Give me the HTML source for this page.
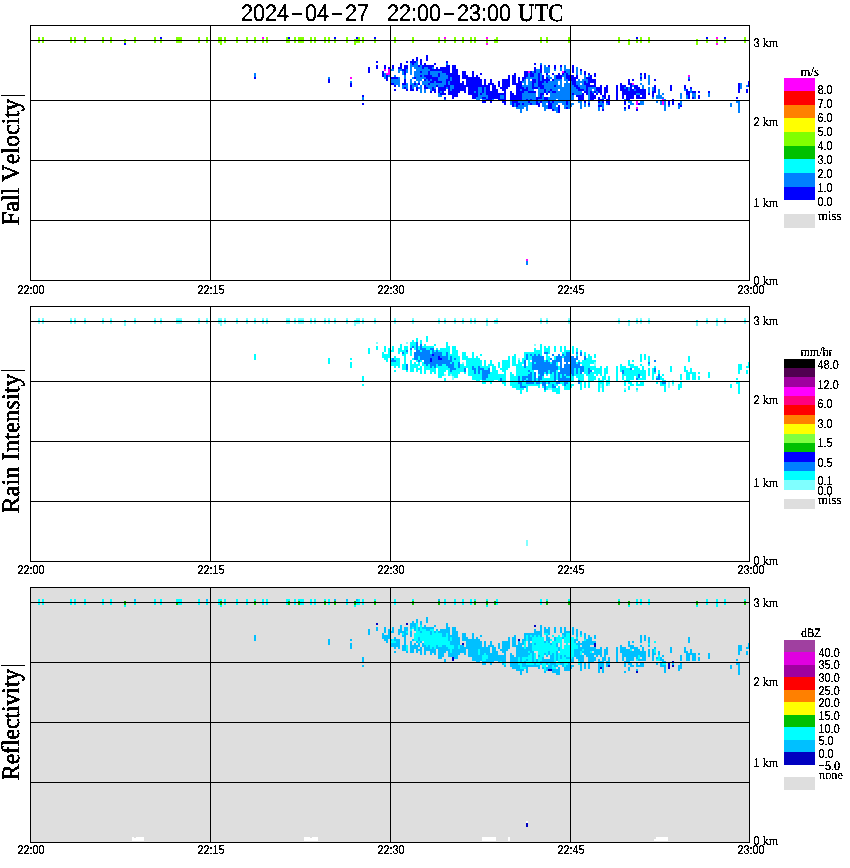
<!DOCTYPE html>
<html><head><meta charset="utf-8"><title>MRR 2024-04-27 22:00-23:00 UTC</title>
<style>
html,body{margin:0;padding:0;background:#fff;}
body{width:850px;height:868px;overflow:hidden;font-family:"Liberation Sans",sans-serif;}
svg{display:block;will-change:transform;}
text{fill:#000;stroke:#000;stroke-width:0.28px;text-rendering:geometricPrecision;font-variant-ligatures:none;font-kerning:none;}
.big{stroke-width:0.55px;}
.sm{stroke-width:0.2px;}
</style></head>
<body>
<svg width="850" height="868" viewBox="0 0 850 868" shape-rendering="crispEdges">
<defs><filter id="thr" x="0" y="0" width="850" height="868" filterUnits="userSpaceOnUse" color-interpolation-filters="sRGB"><feComponentTransfer><feFuncA type="discrete" tableValues="0 0 1 1"/></feComponentTransfer></filter></defs>
<rect x="0" y="0" width="850" height="868" fill="#ffffff"/>
<rect x="30" y="587" width="719" height="255" fill="#dedede"/>
<path fill="#80ff00" d="M38 37h2v2h-2zM42 37h2v2h-2zM70 37h2v2h-2zM74 37h2v2h-2zM84 37h2v2h-2zM102 37h2v2h-2zM110 37h2v2h-2zM134 37h2v2h-2zM154 37h2v2h-2zM176 37h6v2h-6zM198 37h2v2h-2zM206 37h2v2h-2zM218 37h4v2h-4zM224 37h2v2h-2zM236 37h2v2h-2zM246 37h2v2h-2zM254 37h2v2h-2zM266 37h2v2h-2zM286 37h2v2h-2zM294 37h2v2h-2zM298 37h6v2h-6zM310 37h2v2h-2zM314 37h2v2h-2zM324 37h2v2h-2zM328 37h2v2h-2zM346 37h2v2h-2zM358 37h2v2h-2zM362 37h2v2h-2zM394 37h2v2h-2zM412 37h2v2h-2zM438 37h2v2h-2zM454 37h2v2h-2zM462 37h2v2h-2zM470 37h2v2h-2zM474 37h2v2h-2zM496 37h2v2h-2zM540 37h2v2h-2zM546 37h2v2h-2zM568 37h2v2h-2zM618 37h2v2h-2zM640 37h2v2h-2zM648 37h2v2h-2zM744 37h2v2h-2zM38 39h2v2h-2zM42 39h2v2h-2zM70 39h2v2h-2zM74 39h2v2h-2zM84 39h2v2h-2zM102 39h2v2h-2zM110 39h2v2h-2zM124 39h2v2h-2zM134 39h2v2h-2zM154 39h2v2h-2zM160 39h2v2h-2zM176 39h6v2h-6zM198 39h2v2h-2zM206 39h2v2h-2zM218 39h4v2h-4zM224 39h2v2h-2zM236 39h2v2h-2zM246 39h2v2h-2zM254 39h2v2h-2zM262 39h2v2h-2zM266 39h2v2h-2zM286 39h4v2h-4zM294 39h2v2h-2zM298 39h6v2h-6zM310 39h2v2h-2zM314 39h2v2h-2zM324 39h2v2h-2zM328 39h2v2h-2zM334 39h2v2h-2zM346 39h2v2h-2zM354 39h6v2h-6zM362 39h2v2h-2zM374 39h2v2h-2zM394 39h2v2h-2zM412 39h2v2h-2zM438 39h2v2h-2zM444 39h2v2h-2zM454 39h2v2h-2zM462 39h2v2h-2zM470 39h2v2h-2zM474 39h2v2h-2zM486 39h2v2h-2zM494 39h4v2h-4zM540 39h2v2h-2zM546 39h2v2h-2zM568 39h2v2h-2zM618 39h2v2h-2zM628 39h2v2h-2zM636 39h2v2h-2zM640 39h2v2h-2zM648 39h2v2h-2zM696 39h2v2h-2zM706 39h2v2h-2zM716 39h2v2h-2zM724 39h2v2h-2zM744 39h2v2h-2zM38 41h2v2h-2zM42 41h2v2h-2zM70 41h2v2h-2zM74 41h2v2h-2zM84 41h2v2h-2zM102 41h2v2h-2zM110 41h2v2h-2zM124 41h2v2h-2zM134 41h2v2h-2zM154 41h2v2h-2zM160 41h2v2h-2zM176 41h6v2h-6zM198 41h2v2h-2zM206 41h2v2h-2zM218 41h4v2h-4zM224 41h2v2h-2zM236 41h2v2h-2zM246 41h2v2h-2zM254 41h2v2h-2zM262 41h2v2h-2zM266 41h2v2h-2zM286 41h4v2h-4zM294 41h2v2h-2zM298 41h6v2h-6zM310 41h2v2h-2zM314 41h2v2h-2zM324 41h2v2h-2zM328 41h2v2h-2zM334 41h2v2h-2zM346 41h2v2h-2zM354 41h6v2h-6zM362 41h2v2h-2zM374 41h2v2h-2zM394 41h2v2h-2zM412 41h2v2h-2zM438 41h2v2h-2zM444 41h2v2h-2zM454 41h2v2h-2zM462 41h2v2h-2zM470 41h2v2h-2zM474 41h2v2h-2zM486 41h2v2h-2zM494 41h4v2h-4zM540 41h2v2h-2zM546 41h2v2h-2zM568 41h2v2h-2zM618 41h2v2h-2zM628 41h2v2h-2zM636 41h2v2h-2zM640 41h2v2h-2zM648 41h2v2h-2zM696 41h2v2h-2zM706 41h2v2h-2zM716 41h2v2h-2zM724 41h2v2h-2zM744 41h2v2h-2zM220 43h2v2h-2zM354 43h2v2h-2zM628 43h2v2h-2zM696 43h2v2h-2z"/>
<path fill="#0000ff" d="M160 37h2v2h-2zM288 37h2v2h-2zM334 37h2v2h-2zM356 37h2v2h-2zM374 37h2v2h-2zM636 37h2v2h-2zM706 37h2v2h-2zM724 37h2v2h-2zM124 43h2v2h-2zM426 55h2v2h-2zM416 57h2v2h-2zM426 57h2v2h-2zM412 59h2v2h-2zM416 59h2v2h-2zM420 59h2v2h-2zM426 59h2v2h-2zM376 61h2v2h-2zM406 61h2v2h-2zM410 61h6v2h-6zM420 61h2v2h-2zM446 61h2v2h-2zM400 63h2v2h-2zM412 63h2v2h-2zM420 63h2v2h-2zM424 63h2v2h-2zM434 63h2v2h-2zM534 63h2v2h-2zM376 65h2v2h-2zM384 65h2v2h-2zM392 65h2v2h-2zM400 65h2v2h-2zM404 65h4v2h-4zM418 65h2v2h-2zM422 65h12v2h-12zM446 65h4v2h-4zM452 65h4v2h-4zM540 65h2v2h-2zM548 65h2v2h-2zM554 65h2v2h-2zM560 65h2v2h-2zM572 65h2v2h-2zM368 67h2v2h-2zM376 67h2v2h-2zM384 67h2v2h-2zM388 67h2v2h-2zM392 67h2v2h-2zM398 67h4v2h-4zM404 67h4v2h-4zM422 67h2v2h-2zM428 67h4v2h-4zM436 67h2v2h-2zM440 67h10v2h-10zM452 67h4v2h-4zM534 67h2v2h-2zM540 67h2v2h-2zM554 67h2v2h-2zM572 67h2v2h-2zM368 69h2v2h-2zM402 69h4v2h-4zM430 69h20v2h-20zM452 69h6v2h-6zM534 69h2v2h-2zM540 69h2v2h-2zM572 69h2v2h-2zM580 69h2v2h-2zM368 71h2v2h-2zM382 71h2v2h-2zM404 71h2v2h-2zM420 71h2v2h-2zM428 71h2v2h-2zM442 71h8v2h-8zM452 71h6v2h-6zM462 71h4v2h-4zM472 71h2v2h-2zM524 71h4v2h-4zM530 71h2v2h-2zM534 71h2v2h-2zM540 71h2v2h-2zM564 71h2v2h-2zM572 71h2v2h-2zM584 71h2v2h-2zM382 73h2v2h-2zM404 73h2v2h-2zM428 73h2v2h-2zM438 73h2v2h-2zM446 73h12v2h-12zM462 73h4v2h-4zM472 73h2v2h-2zM480 73h2v2h-2zM514 73h2v2h-2zM524 73h4v2h-4zM530 73h4v2h-4zM538 73h2v2h-2zM546 73h2v2h-2zM552 73h2v2h-2zM558 73h2v2h-2zM562 73h2v2h-2zM566 73h2v2h-2zM584 73h2v2h-2zM588 73h2v2h-2zM594 73h2v2h-2zM640 73h2v2h-2zM644 73h2v2h-2zM382 75h2v2h-2zM386 75h2v2h-2zM420 75h2v2h-2zM424 75h8v2h-8zM438 75h2v2h-2zM448 75h12v2h-12zM462 75h6v2h-6zM472 75h2v2h-2zM476 75h2v2h-2zM508 75h2v2h-2zM512 75h4v2h-4zM524 75h4v2h-4zM530 75h4v2h-4zM538 75h2v2h-2zM542 75h2v2h-2zM556 75h6v2h-6zM566 75h8v2h-8zM576 75h2v2h-2zM590 75h2v2h-2zM594 75h2v2h-2zM644 75h2v2h-2zM254 77h2v2h-2zM386 77h2v2h-2zM390 77h8v2h-8zM414 77h2v2h-2zM426 77h12v2h-12zM448 77h2v2h-2zM452 77h8v2h-8zM462 77h18v2h-18zM508 77h2v2h-2zM512 77h4v2h-4zM518 77h2v2h-2zM522 77h4v2h-4zM538 77h2v2h-2zM542 77h2v2h-2zM546 77h2v2h-2zM556 77h6v2h-6zM566 77h12v2h-12zM586 77h6v2h-6zM640 77h2v2h-2zM644 77h2v2h-2zM328 79h2v2h-2zM386 79h2v2h-2zM404 79h2v2h-2zM424 79h2v2h-2zM428 79h2v2h-2zM432 79h6v2h-6zM446 79h4v2h-4zM452 79h8v2h-8zM466 79h16v2h-16zM484 79h2v2h-2zM490 79h2v2h-2zM502 79h8v2h-8zM512 79h4v2h-4zM518 79h2v2h-2zM522 79h2v2h-2zM532 79h4v2h-4zM538 79h2v2h-2zM542 79h8v2h-8zM552 79h2v2h-2zM568 79h8v2h-8zM588 79h8v2h-8zM628 79h2v2h-2zM632 79h2v2h-2zM654 79h2v2h-2zM688 79h2v2h-2zM328 81h2v2h-2zM404 81h2v2h-2zM430 81h4v2h-4zM436 81h6v2h-6zM446 81h2v2h-2zM450 81h10v2h-10zM462 81h2v2h-2zM466 81h16v2h-16zM484 81h2v2h-2zM490 81h2v2h-2zM498 81h2v2h-2zM502 81h8v2h-8zM512 81h4v2h-4zM518 81h4v2h-4zM532 81h4v2h-4zM538 81h6v2h-6zM546 81h2v2h-2zM572 81h4v2h-4zM584 81h2v2h-2zM588 81h8v2h-8zM628 81h2v2h-2zM748 81h2v2h-2zM350 83h2v2h-2zM390 83h4v2h-4zM402 83h4v2h-4zM414 83h2v2h-2zM418 83h2v2h-2zM428 83h2v2h-2zM446 83h2v2h-2zM450 83h14v2h-14zM466 83h16v2h-16zM484 83h2v2h-2zM488 83h6v2h-6zM498 83h2v2h-2zM502 83h8v2h-8zM512 83h10v2h-10zM532 83h2v2h-2zM538 83h4v2h-4zM572 83h4v2h-4zM584 83h6v2h-6zM594 83h2v2h-2zM620 83h2v2h-2zM628 83h4v2h-4zM738 83h2v2h-2zM748 83h2v2h-2zM350 85h2v2h-2zM394 85h2v2h-2zM410 85h2v2h-2zM424 85h2v2h-2zM436 85h2v2h-2zM444 85h6v2h-6zM454 85h36v2h-36zM492 85h4v2h-4zM498 85h2v2h-2zM502 85h8v2h-8zM516 85h6v2h-6zM532 85h2v2h-2zM538 85h6v2h-6zM554 85h2v2h-2zM574 85h4v2h-4zM586 85h10v2h-10zM600 85h2v2h-2zM606 85h2v2h-2zM616 85h2v2h-2zM620 85h6v2h-6zM630 85h2v2h-2zM634 85h4v2h-4zM654 85h2v2h-2zM670 85h2v2h-2zM684 85h2v2h-2zM738 85h2v2h-2zM748 85h2v2h-2zM404 87h2v2h-2zM410 87h2v2h-2zM416 87h2v2h-2zM424 87h4v2h-4zM432 87h2v2h-2zM438 87h8v2h-8zM448 87h2v2h-2zM454 87h12v2h-12zM468 87h10v2h-10zM482 87h2v2h-2zM486 87h4v2h-4zM492 87h4v2h-4zM500 87h8v2h-8zM516 87h8v2h-8zM526 87h2v2h-2zM532 87h6v2h-6zM540 87h4v2h-4zM576 87h4v2h-4zM586 87h2v2h-2zM596 87h6v2h-6zM604 87h4v2h-4zM616 87h2v2h-2zM620 87h4v2h-4zM626 87h2v2h-2zM630 87h2v2h-2zM634 87h6v2h-6zM654 87h2v2h-2zM670 87h2v2h-2zM684 87h2v2h-2zM690 87h2v2h-2zM738 87h2v2h-2zM394 89h2v2h-2zM406 89h2v2h-2zM410 89h4v2h-4zM416 89h2v2h-2zM432 89h4v2h-4zM438 89h8v2h-8zM448 89h2v2h-2zM452 89h14v2h-14zM468 89h10v2h-10zM482 89h2v2h-2zM486 89h4v2h-4zM492 89h6v2h-6zM502 89h4v2h-4zM516 89h4v2h-4zM522 89h6v2h-6zM544 89h2v2h-2zM550 89h2v2h-2zM578 89h6v2h-6zM586 89h2v2h-2zM596 89h6v2h-6zM604 89h4v2h-4zM616 89h2v2h-2zM620 89h8v2h-8zM630 89h4v2h-4zM636 89h10v2h-10zM654 89h2v2h-2zM670 89h2v2h-2zM686 89h2v2h-2zM738 89h2v2h-2zM746 89h2v2h-2zM430 91h2v2h-2zM434 91h2v2h-2zM438 91h2v2h-2zM442 91h2v2h-2zM448 91h12v2h-12zM464 91h2v2h-2zM468 91h6v2h-6zM476 91h2v2h-2zM482 91h2v2h-2zM486 91h12v2h-12zM504 91h2v2h-2zM510 91h2v2h-2zM516 91h8v2h-8zM528 91h8v2h-8zM544 91h2v2h-2zM548 91h2v2h-2zM552 91h4v2h-4zM584 91h4v2h-4zM590 91h2v2h-2zM594 91h2v2h-2zM598 91h4v2h-4zM604 91h4v2h-4zM616 91h2v2h-2zM622 91h24v2h-24zM652 91h4v2h-4zM686 91h4v2h-4zM692 91h4v2h-4zM698 91h2v2h-2zM708 91h2v2h-2zM738 91h2v2h-2zM746 91h2v2h-2zM440 93h6v2h-6zM448 93h10v2h-10zM468 93h10v2h-10zM480 93h2v2h-2zM486 93h20v2h-20zM510 93h4v2h-4zM516 93h6v2h-6zM540 93h4v2h-4zM546 93h2v2h-2zM572 93h2v2h-2zM582 93h2v2h-2zM586 93h2v2h-2zM590 93h4v2h-4zM596 93h2v2h-2zM600 93h2v2h-2zM604 93h2v2h-2zM616 93h2v2h-2zM622 93h14v2h-14zM640 93h6v2h-6zM648 93h2v2h-2zM652 93h2v2h-2zM686 93h4v2h-4zM362 95h2v2h-2zM452 95h6v2h-6zM472 95h6v2h-6zM488 95h12v2h-12zM504 95h2v2h-2zM510 95h12v2h-12zM540 95h2v2h-2zM576 95h8v2h-8zM590 95h6v2h-6zM602 95h4v2h-4zM608 95h2v2h-2zM616 95h2v2h-2zM622 95h2v2h-2zM626 95h8v2h-8zM636 95h4v2h-4zM642 95h4v2h-4zM652 95h2v2h-2zM688 95h2v2h-2zM698 95h2v2h-2zM444 97h2v2h-2zM452 97h2v2h-2zM472 97h4v2h-4zM482 97h4v2h-4zM488 97h12v2h-12zM504 97h2v2h-2zM510 97h12v2h-12zM536 97h6v2h-6zM544 97h4v2h-4zM578 97h6v2h-6zM590 97h6v2h-6zM598 97h2v2h-2zM604 97h2v2h-2zM608 97h2v2h-2zM616 97h2v2h-2zM622 97h2v2h-2zM626 97h8v2h-8zM636 97h10v2h-10zM688 97h2v2h-2zM692 97h2v2h-2zM698 97h2v2h-2zM736 97h2v2h-2zM486 99h6v2h-6zM498 99h8v2h-8zM510 99h12v2h-12zM526 99h2v2h-2zM530 99h2v2h-2zM536 99h2v2h-2zM544 99h4v2h-4zM578 99h6v2h-6zM590 99h4v2h-4zM598 99h6v2h-6zM606 99h4v2h-4zM616 99h2v2h-2zM626 99h4v2h-4zM672 99h2v2h-2zM482 101h4v2h-4zM490 101h2v2h-2zM502 101h4v2h-4zM512 101h6v2h-6zM528 101h2v2h-2zM536 101h2v2h-2zM540 101h2v2h-2zM548 101h2v2h-2zM552 101h2v2h-2zM566 101h2v2h-2zM584 101h2v2h-2zM598 101h2v2h-2zM602 101h2v2h-2zM606 101h4v2h-4zM624 101h2v2h-2zM668 101h2v2h-2zM672 101h2v2h-2zM362 103h2v2h-2zM504 103h2v2h-2zM512 103h2v2h-2zM516 103h4v2h-4zM522 103h2v2h-2zM530 103h2v2h-2zM536 103h4v2h-4zM548 103h4v2h-4zM566 103h2v2h-2zM588 103h2v2h-2zM608 103h2v2h-2zM624 103h2v2h-2zM638 103h2v2h-2zM668 103h2v2h-2zM672 103h2v2h-2zM678 103h2v2h-2zM512 105h2v2h-2zM516 105h2v2h-2zM538 105h2v2h-2zM548 105h4v2h-4zM558 105h2v2h-2zM598 105h4v2h-4zM628 105h2v2h-2zM680 105h2v2h-2zM548 107h4v2h-4zM558 107h2v2h-2zM566 107h2v2h-2zM624 107h2v2h-2zM628 107h2v2h-2zM552 109h2v2h-2zM558 109h2v2h-2zM602 109h2v2h-2zM636 109h2v2h-2zM558 111h2v2h-2z"/>
<path fill="#ff00ff" d="M262 37h2v2h-2zM444 37h2v2h-2zM486 37h2v2h-2zM716 37h2v2h-2zM486 43h2v2h-2zM716 43h2v2h-2zM384 69h2v2h-2zM388 69h2v2h-2zM388 71h2v2h-2zM528 71h2v2h-2zM562 71h2v2h-2zM386 73h4v2h-4zM688 75h2v2h-2zM350 77h2v2h-2zM632 83h2v2h-2zM662 99h2v2h-2zM636 101h2v2h-2zM662 101h2v2h-2zM636 103h2v2h-2zM662 103h2v2h-2zM636 107h2v2h-2zM526 259h2v2h-2z"/>
<path fill="#0080ff" d="M416 61h2v2h-2zM410 63h2v2h-2zM414 63h4v2h-4zM446 63h2v2h-2zM540 63h2v2h-2zM410 65h8v2h-8zM420 65h2v2h-2zM544 65h2v2h-2zM564 65h2v2h-2zM410 67h2v2h-2zM414 67h8v2h-8zM424 67h4v2h-4zM432 67h2v2h-2zM544 67h6v2h-6zM560 67h2v2h-2zM564 67h2v2h-2zM576 67h2v2h-2zM390 69h4v2h-4zM398 69h4v2h-4zM406 69h2v2h-2zM410 69h2v2h-2zM416 69h14v2h-14zM536 69h4v2h-4zM544 69h6v2h-6zM554 69h2v2h-2zM560 69h2v2h-2zM564 69h6v2h-6zM576 69h2v2h-2zM398 71h2v2h-2zM402 71h2v2h-2zM406 71h2v2h-2zM410 71h2v2h-2zM414 71h6v2h-6zM422 71h6v2h-6zM430 71h12v2h-12zM532 71h2v2h-2zM536 71h4v2h-4zM544 71h6v2h-6zM566 71h4v2h-4zM576 71h2v2h-2zM580 71h2v2h-2zM254 73h2v2h-2zM384 73h2v2h-2zM402 73h2v2h-2zM410 73h2v2h-2zM414 73h14v2h-14zM430 73h8v2h-8zM440 73h6v2h-6zM528 73h2v2h-2zM534 73h4v2h-4zM540 73h2v2h-2zM564 73h2v2h-2zM568 73h2v2h-2zM576 73h2v2h-2zM580 73h2v2h-2zM254 75h2v2h-2zM384 75h2v2h-2zM388 75h2v2h-2zM394 75h2v2h-2zM404 75h2v2h-2zM414 75h6v2h-6zM422 75h2v2h-2zM432 75h6v2h-6zM440 75h8v2h-8zM528 75h2v2h-2zM534 75h4v2h-4zM540 75h2v2h-2zM546 75h4v2h-4zM554 75h2v2h-2zM562 75h4v2h-4zM584 75h2v2h-2zM588 75h2v2h-2zM640 75h2v2h-2zM648 75h2v2h-2zM328 77h2v2h-2zM384 77h2v2h-2zM398 77h2v2h-2zM404 77h2v2h-2zM412 77h2v2h-2zM416 77h10v2h-10zM438 77h10v2h-10zM450 77h2v2h-2zM526 77h12v2h-12zM540 77h2v2h-2zM548 77h4v2h-4zM554 77h2v2h-2zM564 77h2v2h-2zM584 77h2v2h-2zM648 77h2v2h-2zM688 77h2v2h-2zM390 79h10v2h-10zM410 79h2v2h-2zM416 79h6v2h-6zM426 79h2v2h-2zM430 79h2v2h-2zM438 79h8v2h-8zM450 79h2v2h-2zM524 79h2v2h-2zM528 79h2v2h-2zM536 79h2v2h-2zM540 79h2v2h-2zM554 79h8v2h-8zM564 79h4v2h-4zM578 79h2v2h-2zM582 79h6v2h-6zM640 79h2v2h-2zM648 79h2v2h-2zM350 81h2v2h-2zM390 81h10v2h-10zM410 81h2v2h-2zM414 81h2v2h-2zM418 81h2v2h-2zM422 81h8v2h-8zM434 81h2v2h-2zM442 81h4v2h-4zM448 81h2v2h-2zM522 81h4v2h-4zM528 81h4v2h-4zM536 81h2v2h-2zM544 81h2v2h-2zM548 81h10v2h-10zM560 81h2v2h-2zM566 81h2v2h-2zM570 81h2v2h-2zM576 81h8v2h-8zM586 81h2v2h-2zM648 81h2v2h-2zM394 83h6v2h-6zM406 83h2v2h-2zM410 83h4v2h-4zM416 83h2v2h-2zM422 83h6v2h-6zM430 83h16v2h-16zM448 83h2v2h-2zM524 83h2v2h-2zM528 83h4v2h-4zM534 83h4v2h-4zM542 83h16v2h-16zM560 83h2v2h-2zM564 83h8v2h-8zM576 83h4v2h-4zM582 83h2v2h-2zM640 83h2v2h-2zM648 83h2v2h-2zM740 83h2v2h-2zM398 85h2v2h-2zM402 85h6v2h-6zM412 85h6v2h-6zM420 85h2v2h-2zM426 85h10v2h-10zM438 85h6v2h-6zM450 85h4v2h-4zM522 85h10v2h-10zM534 85h4v2h-4zM544 85h10v2h-10zM556 85h6v2h-6zM564 85h10v2h-10zM578 85h8v2h-8zM632 85h2v2h-2zM642 85h2v2h-2zM740 85h2v2h-2zM746 85h2v2h-2zM402 87h2v2h-2zM406 87h2v2h-2zM412 87h2v2h-2zM418 87h4v2h-4zM428 87h4v2h-4zM434 87h2v2h-2zM446 87h2v2h-2zM450 87h4v2h-4zM478 87h4v2h-4zM484 87h2v2h-2zM524 87h2v2h-2zM528 87h4v2h-4zM538 87h2v2h-2zM544 87h32v2h-32zM580 87h6v2h-6zM588 87h8v2h-8zM624 87h2v2h-2zM628 87h2v2h-2zM642 87h2v2h-2zM648 87h2v2h-2zM652 87h2v2h-2zM740 87h2v2h-2zM420 89h2v2h-2zM424 89h2v2h-2zM430 89h2v2h-2zM450 89h2v2h-2zM478 89h4v2h-4zM484 89h2v2h-2zM520 89h2v2h-2zM528 89h6v2h-6zM538 89h6v2h-6zM546 89h4v2h-4zM552 89h6v2h-6zM560 89h18v2h-18zM584 89h2v2h-2zM588 89h4v2h-4zM594 89h2v2h-2zM628 89h2v2h-2zM634 89h2v2h-2zM648 89h2v2h-2zM652 89h2v2h-2zM658 89h2v2h-2zM684 89h2v2h-2zM690 89h2v2h-2zM420 91h2v2h-2zM424 91h2v2h-2zM440 91h2v2h-2zM474 91h2v2h-2zM478 91h4v2h-4zM484 91h2v2h-2zM524 91h4v2h-4zM538 91h6v2h-6zM546 91h2v2h-2zM550 91h2v2h-2zM556 91h26v2h-26zM588 91h2v2h-2zM592 91h2v2h-2zM596 91h2v2h-2zM648 91h2v2h-2zM658 91h2v2h-2zM690 91h2v2h-2zM438 93h2v2h-2zM478 93h2v2h-2zM482 93h4v2h-4zM522 93h14v2h-14zM538 93h2v2h-2zM550 93h22v2h-22zM574 93h8v2h-8zM588 93h2v2h-2zM636 93h4v2h-4zM658 93h2v2h-2zM662 93h2v2h-2zM680 93h2v2h-2zM692 93h4v2h-4zM708 93h2v2h-2zM438 95h4v2h-4zM478 95h10v2h-10zM500 95h4v2h-4zM522 95h14v2h-14zM538 95h2v2h-2zM542 95h2v2h-2zM550 95h24v2h-24zM588 95h2v2h-2zM656 95h6v2h-6zM680 95h2v2h-2zM686 95h2v2h-2zM692 95h4v2h-4zM708 95h2v2h-2zM362 97h2v2h-2zM476 97h6v2h-6zM486 97h2v2h-2zM500 97h4v2h-4zM522 97h14v2h-14zM542 97h2v2h-2zM548 97h26v2h-26zM588 97h2v2h-2zM602 97h2v2h-2zM652 97h2v2h-2zM656 97h8v2h-8zM680 97h2v2h-2zM686 97h2v2h-2zM694 97h2v2h-2zM362 99h2v2h-2zM444 99h2v2h-2zM476 99h4v2h-4zM482 99h4v2h-4zM492 99h2v2h-2zM522 99h4v2h-4zM528 99h2v2h-2zM532 99h4v2h-4zM538 99h6v2h-6zM548 99h8v2h-8zM558 99h16v2h-16zM588 99h2v2h-2zM624 99h2v2h-2zM664 99h2v2h-2zM510 101h2v2h-2zM518 101h10v2h-10zM530 101h6v2h-6zM538 101h2v2h-2zM542 101h6v2h-6zM550 101h2v2h-2zM554 101h12v2h-12zM568 101h2v2h-2zM578 101h4v2h-4zM588 101h2v2h-2zM600 101h2v2h-2zM628 101h4v2h-4zM640 101h4v2h-4zM656 101h2v2h-2zM660 101h2v2h-2zM664 101h2v2h-2zM680 101h2v2h-2zM736 101h4v2h-4zM510 103h2v2h-2zM514 103h2v2h-2zM520 103h2v2h-2zM524 103h6v2h-6zM532 103h4v2h-4zM542 103h4v2h-4zM552 103h6v2h-6zM562 103h4v2h-4zM568 103h6v2h-6zM580 103h2v2h-2zM584 103h2v2h-2zM598 103h6v2h-6zM606 103h2v2h-2zM630 103h4v2h-4zM640 103h4v2h-4zM660 103h2v2h-2zM664 103h2v2h-2zM680 103h2v2h-2zM730 103h2v2h-2zM738 103h2v2h-2zM514 105h2v2h-2zM518 105h10v2h-10zM542 105h6v2h-6zM552 105h4v2h-4zM564 105h8v2h-8zM580 105h2v2h-2zM584 105h2v2h-2zM588 105h2v2h-2zM602 105h2v2h-2zM664 105h2v2h-2zM668 105h2v2h-2zM678 105h2v2h-2zM730 105h2v2h-2zM738 105h2v2h-2zM516 107h8v2h-8zM526 107h2v2h-2zM544 107h4v2h-4zM552 107h6v2h-6zM564 107h2v2h-2zM568 107h2v2h-2zM580 107h2v2h-2zM598 107h2v2h-2zM602 107h2v2h-2zM664 107h2v2h-2zM678 107h2v2h-2zM738 107h2v2h-2zM520 109h2v2h-2zM526 109h2v2h-2zM544 109h2v2h-2zM554 109h4v2h-4zM598 109h2v2h-2zM624 109h2v2h-2zM664 109h2v2h-2zM738 109h2v2h-2zM520 111h2v2h-2zM556 111h2v2h-2zM738 111h2v2h-2zM526 261h2v2h-2zM526 263h2v2h-2z"/>
<path fill="#80ffff" d="M38 318h2v2h-2zM42 318h2v2h-2zM70 318h2v2h-2zM74 318h2v2h-2zM84 318h2v2h-2zM102 318h2v2h-2zM110 318h2v2h-2zM134 318h2v2h-2zM154 318h2v2h-2zM160 318h2v2h-2zM176 318h6v2h-6zM198 318h2v2h-2zM206 318h2v2h-2zM218 318h4v2h-4zM224 318h2v2h-2zM236 318h2v2h-2zM246 318h2v2h-2zM254 318h2v2h-2zM262 318h2v2h-2zM266 318h2v2h-2zM286 318h4v2h-4zM294 318h2v2h-2zM298 318h6v2h-6zM310 318h2v2h-2zM314 318h2v2h-2zM324 318h2v2h-2zM328 318h2v2h-2zM334 318h2v2h-2zM346 318h2v2h-2zM356 318h4v2h-4zM362 318h2v2h-2zM374 318h2v2h-2zM394 318h2v2h-2zM412 318h2v2h-2zM438 318h2v2h-2zM444 318h2v2h-2zM454 318h2v2h-2zM462 318h2v2h-2zM470 318h2v2h-2zM474 318h2v2h-2zM486 318h2v2h-2zM496 318h2v2h-2zM540 318h2v2h-2zM546 318h2v2h-2zM568 318h2v2h-2zM618 318h2v2h-2zM636 318h2v2h-2zM640 318h2v2h-2zM648 318h2v2h-2zM706 318h2v2h-2zM716 318h2v2h-2zM724 318h2v2h-2zM744 318h2v2h-2zM38 322h2v2h-2zM42 322h2v2h-2zM70 322h2v2h-2zM74 322h2v2h-2zM84 322h2v2h-2zM102 322h2v2h-2zM110 322h2v2h-2zM124 322h2v2h-2zM134 322h2v2h-2zM154 322h2v2h-2zM160 322h2v2h-2zM176 322h6v2h-6zM198 322h2v2h-2zM206 322h2v2h-2zM218 322h4v2h-4zM224 322h2v2h-2zM236 322h2v2h-2zM246 322h2v2h-2zM254 322h2v2h-2zM262 322h2v2h-2zM266 322h2v2h-2zM286 322h4v2h-4zM294 322h2v2h-2zM298 322h6v2h-6zM310 322h2v2h-2zM314 322h2v2h-2zM324 322h2v2h-2zM328 322h2v2h-2zM334 322h2v2h-2zM346 322h2v2h-2zM354 322h6v2h-6zM362 322h2v2h-2zM374 322h2v2h-2zM394 322h2v2h-2zM412 322h2v2h-2zM438 322h2v2h-2zM444 322h2v2h-2zM454 322h2v2h-2zM462 322h2v2h-2zM470 322h2v2h-2zM474 322h2v2h-2zM486 322h2v2h-2zM494 322h4v2h-4zM540 322h2v2h-2zM546 322h2v2h-2zM568 322h2v2h-2zM618 322h2v2h-2zM628 322h2v2h-2zM636 322h2v2h-2zM640 322h2v2h-2zM648 322h2v2h-2zM696 322h2v2h-2zM706 322h2v2h-2zM716 322h2v2h-2zM724 322h2v2h-2zM744 322h2v2h-2zM124 324h2v2h-2zM220 324h2v2h-2zM354 324h2v2h-2zM486 324h2v2h-2zM628 324h2v2h-2zM696 324h2v2h-2zM716 324h2v2h-2zM376 342h2v2h-2zM406 342h2v2h-2zM534 344h2v2h-2zM518 358h2v2h-2zM462 362h2v2h-2zM594 362h2v2h-2zM594 364h2v2h-2zM444 374h2v2h-2zM450 374h2v2h-2zM452 376h2v2h-2zM452 378h2v2h-2zM672 380h2v2h-2zM668 382h2v2h-2zM600 384h2v2h-2zM608 384h2v2h-2zM668 384h2v2h-2zM672 384h2v2h-2zM600 386h2v2h-2zM668 386h2v2h-2zM548 388h4v2h-4zM624 388h2v2h-2zM636 390h2v2h-2zM526 540h2v2h-2zM526 542h2v2h-2zM526 544h2v2h-2z"/>
<path fill="#00ffff" d="M38 320h2v2h-2zM42 320h2v2h-2zM70 320h2v2h-2zM74 320h2v2h-2zM84 320h2v2h-2zM102 320h2v2h-2zM110 320h2v2h-2zM124 320h2v2h-2zM134 320h2v2h-2zM154 320h2v2h-2zM160 320h2v2h-2zM176 320h6v2h-6zM198 320h2v2h-2zM206 320h2v2h-2zM218 320h4v2h-4zM224 320h2v2h-2zM236 320h2v2h-2zM246 320h2v2h-2zM254 320h2v2h-2zM262 320h2v2h-2zM266 320h2v2h-2zM286 320h4v2h-4zM294 320h2v2h-2zM298 320h6v2h-6zM310 320h2v2h-2zM314 320h2v2h-2zM324 320h2v2h-2zM328 320h2v2h-2zM334 320h2v2h-2zM346 320h2v2h-2zM354 320h6v2h-6zM362 320h2v2h-2zM374 320h2v2h-2zM394 320h2v2h-2zM412 320h2v2h-2zM438 320h2v2h-2zM444 320h2v2h-2zM454 320h2v2h-2zM462 320h2v2h-2zM470 320h2v2h-2zM474 320h2v2h-2zM486 320h2v2h-2zM494 320h4v2h-4zM540 320h2v2h-2zM546 320h2v2h-2zM568 320h2v2h-2zM618 320h2v2h-2zM628 320h2v2h-2zM636 320h2v2h-2zM640 320h2v2h-2zM648 320h2v2h-2zM696 320h2v2h-2zM706 320h2v2h-2zM716 320h2v2h-2zM724 320h2v2h-2zM744 320h2v2h-2zM426 336h2v2h-2zM416 338h2v2h-2zM426 338h2v2h-2zM412 340h2v2h-2zM416 340h2v2h-2zM420 340h2v2h-2zM426 340h2v2h-2zM410 342h6v2h-6zM420 342h2v2h-2zM446 342h2v2h-2zM400 344h2v2h-2zM410 344h6v2h-6zM424 344h2v2h-2zM434 344h2v2h-2zM446 344h2v2h-2zM540 344h2v2h-2zM376 346h2v2h-2zM384 346h2v2h-2zM392 346h2v2h-2zM400 346h2v2h-2zM404 346h4v2h-4zM410 346h2v2h-2zM414 346h2v2h-2zM418 346h2v2h-2zM422 346h12v2h-12zM446 346h4v2h-4zM452 346h4v2h-4zM540 346h2v2h-2zM544 346h2v2h-2zM548 346h2v2h-2zM554 346h2v2h-2zM560 346h2v2h-2zM564 346h2v2h-2zM572 346h2v2h-2zM368 348h2v2h-2zM376 348h2v2h-2zM384 348h2v2h-2zM388 348h2v2h-2zM392 348h2v2h-2zM398 348h4v2h-4zM404 348h4v2h-4zM414 348h2v2h-2zM418 348h2v2h-2zM426 348h4v2h-4zM436 348h2v2h-2zM440 348h10v2h-10zM452 348h4v2h-4zM534 348h2v2h-2zM540 348h2v2h-2zM544 348h6v2h-6zM554 348h2v2h-2zM560 348h2v2h-2zM564 348h2v2h-2zM572 348h2v2h-2zM576 348h2v2h-2zM368 350h2v2h-2zM384 350h2v2h-2zM388 350h6v2h-6zM398 350h8v2h-8zM410 350h2v2h-2zM420 350h2v2h-2zM430 350h2v2h-2zM434 350h2v2h-2zM438 350h12v2h-12zM452 350h6v2h-6zM534 350h8v2h-8zM544 350h6v2h-6zM554 350h2v2h-2zM560 350h2v2h-2zM564 350h6v2h-6zM572 350h2v2h-2zM576 350h2v2h-2zM580 350h2v2h-2zM368 352h2v2h-2zM382 352h2v2h-2zM388 352h2v2h-2zM398 352h2v2h-2zM404 352h4v2h-4zM410 352h2v2h-2zM430 352h2v2h-2zM442 352h4v2h-4zM448 352h2v2h-2zM452 352h6v2h-6zM462 352h4v2h-4zM472 352h2v2h-2zM524 352h18v2h-18zM548 352h2v2h-2zM562 352h4v2h-4zM572 352h2v2h-2zM584 352h2v2h-2zM254 354h2v2h-2zM382 354h8v2h-8zM402 354h4v2h-4zM410 354h2v2h-2zM442 354h4v2h-4zM448 354h10v2h-10zM462 354h4v2h-4zM472 354h2v2h-2zM480 354h2v2h-2zM514 354h2v2h-2zM524 354h2v2h-2zM528 354h2v2h-2zM532 354h2v2h-2zM536 354h2v2h-2zM540 354h2v2h-2zM546 354h2v2h-2zM564 354h2v2h-2zM576 354h2v2h-2zM584 354h2v2h-2zM588 354h2v2h-2zM594 354h2v2h-2zM640 354h2v2h-2zM644 354h2v2h-2zM254 356h2v2h-2zM382 356h8v2h-8zM394 356h2v2h-2zM404 356h2v2h-2zM418 356h2v2h-2zM448 356h2v2h-2zM452 356h8v2h-8zM462 356h6v2h-6zM472 356h2v2h-2zM476 356h2v2h-2zM508 356h2v2h-2zM512 356h4v2h-4zM524 356h2v2h-2zM528 356h4v2h-4zM546 356h4v2h-4zM554 356h2v2h-2zM562 356h2v2h-2zM588 356h4v2h-4zM594 356h2v2h-2zM640 356h2v2h-2zM644 356h2v2h-2zM648 356h2v2h-2zM688 356h2v2h-2zM254 358h2v2h-2zM328 358h2v2h-2zM350 358h2v2h-2zM384 358h4v2h-4zM390 358h2v2h-2zM394 358h6v2h-6zM404 358h2v2h-2zM412 358h2v2h-2zM418 358h2v2h-2zM448 358h2v2h-2zM452 358h2v2h-2zM456 358h4v2h-4zM462 358h18v2h-18zM508 358h2v2h-2zM512 358h4v2h-4zM522 358h4v2h-4zM528 358h4v2h-4zM546 358h4v2h-4zM554 358h2v2h-2zM586 358h6v2h-6zM640 358h2v2h-2zM644 358h2v2h-2zM648 358h2v2h-2zM688 358h2v2h-2zM328 360h2v2h-2zM386 360h2v2h-2zM396 360h4v2h-4zM404 360h2v2h-2zM410 360h2v2h-2zM416 360h2v2h-2zM420 360h2v2h-2zM452 360h8v2h-8zM466 360h16v2h-16zM484 360h2v2h-2zM490 360h2v2h-2zM502 360h8v2h-8zM512 360h4v2h-4zM518 360h2v2h-2zM522 360h2v2h-2zM528 360h2v2h-2zM544 360h2v2h-2zM548 360h2v2h-2zM578 360h2v2h-2zM582 360h14v2h-14zM628 360h2v2h-2zM632 360h2v2h-2zM640 360h2v2h-2zM648 360h2v2h-2zM688 360h2v2h-2zM328 362h2v2h-2zM350 362h2v2h-2zM390 362h10v2h-10zM404 362h2v2h-2zM410 362h2v2h-2zM414 362h2v2h-2zM418 362h2v2h-2zM422 362h2v2h-2zM450 362h2v2h-2zM454 362h4v2h-4zM466 362h16v2h-16zM484 362h2v2h-2zM490 362h2v2h-2zM498 362h2v2h-2zM502 362h8v2h-8zM512 362h4v2h-4zM518 362h6v2h-6zM528 362h4v2h-4zM534 362h2v2h-2zM550 362h2v2h-2zM556 362h2v2h-2zM576 362h2v2h-2zM580 362h14v2h-14zM628 362h2v2h-2zM748 362h2v2h-2zM350 364h2v2h-2zM390 364h10v2h-10zM402 364h4v2h-4zM410 364h10v2h-10zM422 364h4v2h-4zM428 364h2v2h-2zM436 364h2v2h-2zM442 364h4v2h-4zM454 364h4v2h-4zM460 364h4v2h-4zM466 364h16v2h-16zM484 364h2v2h-2zM488 364h6v2h-6zM498 364h2v2h-2zM502 364h8v2h-8zM512 364h10v2h-10zM528 364h4v2h-4zM556 364h2v2h-2zM582 364h8v2h-8zM620 364h2v2h-2zM628 364h6v2h-6zM640 364h2v2h-2zM648 364h2v2h-2zM738 364h4v2h-4zM748 364h2v2h-2zM350 366h2v2h-2zM394 366h2v2h-2zM398 366h2v2h-2zM402 366h4v2h-4zM410 366h8v2h-8zM420 366h2v2h-2zM424 366h6v2h-6zM432 366h2v2h-2zM436 366h12v2h-12zM454 366h4v2h-4zM460 366h12v2h-12zM474 366h4v2h-4zM480 366h10v2h-10zM492 366h4v2h-4zM498 366h2v2h-2zM502 366h8v2h-8zM516 366h8v2h-8zM526 366h6v2h-6zM558 366h2v2h-2zM584 366h12v2h-12zM600 366h2v2h-2zM606 366h2v2h-2zM616 366h2v2h-2zM620 366h6v2h-6zM630 366h8v2h-8zM642 366h2v2h-2zM654 366h2v2h-2zM670 366h2v2h-2zM684 366h2v2h-2zM738 366h4v2h-4zM746 366h4v2h-4zM402 368h4v2h-4zM410 368h4v2h-4zM416 368h6v2h-6zM424 368h12v2h-12zM438 368h12v2h-12zM456 368h8v2h-8zM468 368h4v2h-4zM476 368h2v2h-2zM484 368h4v2h-4zM492 368h4v2h-4zM500 368h8v2h-8zM516 368h16v2h-16zM558 368h2v2h-2zM574 368h2v2h-2zM578 368h2v2h-2zM584 368h4v2h-4zM590 368h12v2h-12zM604 368h4v2h-4zM616 368h2v2h-2zM620 368h10v2h-10zM634 368h6v2h-6zM642 368h2v2h-2zM648 368h2v2h-2zM652 368h2v2h-2zM670 368h2v2h-2zM684 368h2v2h-2zM690 368h2v2h-2zM738 368h4v2h-4zM394 370h2v2h-2zM406 370h2v2h-2zM410 370h4v2h-4zM416 370h2v2h-2zM420 370h2v2h-2zM424 370h2v2h-2zM430 370h6v2h-6zM438 370h8v2h-8zM448 370h2v2h-2zM452 370h12v2h-12zM468 370h6v2h-6zM476 370h2v2h-2zM480 370h2v2h-2zM492 370h6v2h-6zM502 370h4v2h-4zM516 370h12v2h-12zM530 370h4v2h-4zM548 370h2v2h-2zM556 370h2v2h-2zM574 370h2v2h-2zM578 370h2v2h-2zM584 370h4v2h-4zM594 370h8v2h-8zM604 370h4v2h-4zM616 370h2v2h-2zM620 370h2v2h-2zM624 370h22v2h-22zM648 370h2v2h-2zM652 370h2v2h-2zM658 370h2v2h-2zM670 370h2v2h-2zM684 370h4v2h-4zM690 370h2v2h-2zM738 370h2v2h-2zM746 370h2v2h-2zM420 372h2v2h-2zM424 372h2v2h-2zM430 372h2v2h-2zM434 372h2v2h-2zM438 372h6v2h-6zM448 372h12v2h-12zM464 372h2v2h-2zM468 372h6v2h-6zM476 372h2v2h-2zM480 372h2v2h-2zM490 372h8v2h-8zM504 372h2v2h-2zM510 372h2v2h-2zM516 372h14v2h-14zM532 372h2v2h-2zM544 372h2v2h-2zM548 372h2v2h-2zM552 372h2v2h-2zM556 372h2v2h-2zM574 372h2v2h-2zM578 372h2v2h-2zM584 372h4v2h-4zM590 372h12v2h-12zM604 372h4v2h-4zM616 372h2v2h-2zM624 372h22v2h-22zM648 372h2v2h-2zM652 372h4v2h-4zM658 372h2v2h-2zM686 372h10v2h-10zM698 372h2v2h-2zM708 372h2v2h-2zM738 372h2v2h-2zM746 372h2v2h-2zM438 374h6v2h-6zM448 374h2v2h-2zM452 374h6v2h-6zM468 374h14v2h-14zM488 374h18v2h-18zM510 374h4v2h-4zM516 374h12v2h-12zM532 374h2v2h-2zM538 374h2v2h-2zM546 374h2v2h-2zM550 374h4v2h-4zM556 374h2v2h-2zM560 374h2v2h-2zM564 374h2v2h-2zM570 374h2v2h-2zM574 374h10v2h-10zM586 374h8v2h-8zM596 374h2v2h-2zM600 374h2v2h-2zM604 374h2v2h-2zM616 374h2v2h-2zM622 374h16v2h-16zM640 374h6v2h-6zM648 374h2v2h-2zM652 374h2v2h-2zM662 374h2v2h-2zM680 374h2v2h-2zM686 374h4v2h-4zM692 374h4v2h-4zM708 374h2v2h-2zM362 376h2v2h-2zM438 376h4v2h-4zM454 376h4v2h-4zM472 376h10v2h-10zM488 376h18v2h-18zM510 376h8v2h-8zM520 376h2v2h-2zM532 376h2v2h-2zM542 376h2v2h-2zM550 376h4v2h-4zM556 376h2v2h-2zM560 376h2v2h-2zM566 376h8v2h-8zM576 376h8v2h-8zM588 376h8v2h-8zM602 376h4v2h-4zM608 376h2v2h-2zM616 376h2v2h-2zM622 376h2v2h-2zM626 376h8v2h-8zM636 376h2v2h-2zM642 376h4v2h-4zM652 376h2v2h-2zM656 376h2v2h-2zM660 376h2v2h-2zM680 376h2v2h-2zM686 376h4v2h-4zM692 376h4v2h-4zM698 376h2v2h-2zM708 376h2v2h-2zM362 378h2v2h-2zM444 378h2v2h-2zM472 378h10v2h-10zM486 378h14v2h-14zM502 378h4v2h-4zM510 378h8v2h-8zM520 378h2v2h-2zM526 378h2v2h-2zM532 378h2v2h-2zM536 378h2v2h-2zM542 378h12v2h-12zM556 378h2v2h-2zM570 378h4v2h-4zM578 378h6v2h-6zM588 378h8v2h-8zM598 378h2v2h-2zM602 378h4v2h-4zM608 378h2v2h-2zM616 378h2v2h-2zM622 378h2v2h-2zM626 378h8v2h-8zM638 378h8v2h-8zM652 378h2v2h-2zM660 378h4v2h-4zM680 378h2v2h-2zM686 378h4v2h-4zM692 378h4v2h-4zM698 378h2v2h-2zM736 378h2v2h-2zM362 380h2v2h-2zM444 380h2v2h-2zM476 380h4v2h-4zM482 380h12v2h-12zM498 380h2v2h-2zM502 380h4v2h-4zM510 380h8v2h-8zM520 380h2v2h-2zM524 380h2v2h-2zM532 380h2v2h-2zM536 380h2v2h-2zM540 380h14v2h-14zM570 380h4v2h-4zM580 380h4v2h-4zM588 380h6v2h-6zM598 380h6v2h-6zM606 380h4v2h-4zM616 380h2v2h-2zM624 380h6v2h-6zM662 380h4v2h-4zM482 382h4v2h-4zM490 382h2v2h-2zM502 382h4v2h-4zM510 382h8v2h-8zM522 382h4v2h-4zM534 382h2v2h-2zM540 382h2v2h-2zM546 382h2v2h-2zM550 382h6v2h-6zM560 382h4v2h-4zM568 382h2v2h-2zM580 382h2v2h-2zM584 382h2v2h-2zM588 382h2v2h-2zM598 382h6v2h-6zM606 382h4v2h-4zM624 382h2v2h-2zM628 382h4v2h-4zM636 382h2v2h-2zM640 382h4v2h-4zM656 382h2v2h-2zM660 382h2v2h-2zM672 382h2v2h-2zM680 382h2v2h-2zM736 382h4v2h-4zM362 384h2v2h-2zM504 384h2v2h-2zM510 384h10v2h-10zM522 384h18v2h-18zM548 384h4v2h-4zM554 384h4v2h-4zM562 384h2v2h-2zM566 384h8v2h-8zM580 384h2v2h-2zM584 384h2v2h-2zM588 384h2v2h-2zM598 384h2v2h-2zM602 384h2v2h-2zM606 384h2v2h-2zM624 384h2v2h-2zM630 384h4v2h-4zM636 384h8v2h-8zM660 384h6v2h-6zM678 384h4v2h-4zM730 384h2v2h-2zM738 384h2v2h-2zM512 386h8v2h-8zM526 386h2v2h-2zM538 386h2v2h-2zM542 386h2v2h-2zM546 386h6v2h-6zM558 386h2v2h-2zM564 386h8v2h-8zM580 386h2v2h-2zM584 386h2v2h-2zM588 386h2v2h-2zM598 386h2v2h-2zM602 386h2v2h-2zM628 386h2v2h-2zM664 386h2v2h-2zM678 386h4v2h-4zM730 386h2v2h-2zM738 386h2v2h-2zM516 388h8v2h-8zM526 388h2v2h-2zM546 388h2v2h-2zM552 388h8v2h-8zM564 388h6v2h-6zM580 388h2v2h-2zM598 388h2v2h-2zM602 388h2v2h-2zM628 388h2v2h-2zM636 388h2v2h-2zM664 388h2v2h-2zM678 388h2v2h-2zM738 388h2v2h-2zM520 390h2v2h-2zM526 390h2v2h-2zM544 390h2v2h-2zM552 390h8v2h-8zM598 390h2v2h-2zM602 390h2v2h-2zM624 390h2v2h-2zM664 390h2v2h-2zM738 390h2v2h-2zM520 392h2v2h-2zM556 392h4v2h-4zM738 392h2v2h-2z"/>
<path fill="#0080ff" d="M416 342h2v2h-2zM416 344h2v2h-2zM420 344h2v2h-2zM412 346h2v2h-2zM416 346h2v2h-2zM420 346h2v2h-2zM410 348h2v2h-2zM416 348h2v2h-2zM420 348h6v2h-6zM430 348h4v2h-4zM406 350h2v2h-2zM416 350h4v2h-4zM422 350h8v2h-8zM432 350h2v2h-2zM436 350h2v2h-2zM402 352h2v2h-2zM414 352h16v2h-16zM432 352h10v2h-10zM446 352h2v2h-2zM544 352h4v2h-4zM566 352h4v2h-4zM576 352h2v2h-2zM580 352h2v2h-2zM414 354h18v2h-18zM434 354h8v2h-8zM446 354h2v2h-2zM526 354h2v2h-2zM530 354h2v2h-2zM534 354h2v2h-2zM538 354h2v2h-2zM552 354h2v2h-2zM558 354h2v2h-2zM562 354h2v2h-2zM566 354h4v2h-4zM580 354h2v2h-2zM414 356h4v2h-4zM420 356h18v2h-18zM440 356h8v2h-8zM450 356h2v2h-2zM526 356h2v2h-2zM532 356h12v2h-12zM556 356h6v2h-6zM564 356h10v2h-10zM576 356h2v2h-2zM584 356h2v2h-2zM392 358h2v2h-2zM414 358h4v2h-4zM420 358h10v2h-10zM432 358h6v2h-6zM442 358h6v2h-6zM450 358h2v2h-2zM454 358h2v2h-2zM526 358h2v2h-2zM532 358h12v2h-12zM550 358h2v2h-2zM556 358h6v2h-6zM564 358h14v2h-14zM584 358h2v2h-2zM390 360h6v2h-6zM418 360h2v2h-2zM424 360h6v2h-6zM432 360h20v2h-20zM524 360h2v2h-2zM532 360h12v2h-12zM546 360h2v2h-2zM552 360h10v2h-10zM564 360h12v2h-12zM654 360h2v2h-2zM424 362h26v2h-26zM452 362h2v2h-2zM458 362h2v2h-2zM524 362h2v2h-2zM532 362h2v2h-2zM536 362h14v2h-14zM552 362h4v2h-4zM560 362h2v2h-2zM566 362h2v2h-2zM570 362h6v2h-6zM578 362h2v2h-2zM648 362h2v2h-2zM406 364h2v2h-2zM426 364h2v2h-2zM430 364h6v2h-6zM438 364h4v2h-4zM446 364h8v2h-8zM458 364h2v2h-2zM524 364h2v2h-2zM532 364h24v2h-24zM560 364h2v2h-2zM564 364h16v2h-16zM406 366h2v2h-2zM430 366h2v2h-2zM434 366h2v2h-2zM448 366h6v2h-6zM458 366h2v2h-2zM472 366h2v2h-2zM478 366h2v2h-2zM524 366h2v2h-2zM532 366h26v2h-26zM560 366h2v2h-2zM564 366h20v2h-20zM406 368h2v2h-2zM450 368h6v2h-6zM464 368h2v2h-2zM472 368h4v2h-4zM478 368h6v2h-6zM488 368h2v2h-2zM532 368h26v2h-26zM560 368h14v2h-14zM576 368h2v2h-2zM580 368h4v2h-4zM588 368h2v2h-2zM630 368h2v2h-2zM654 368h2v2h-2zM450 370h2v2h-2zM464 370h2v2h-2zM474 370h2v2h-2zM478 370h2v2h-2zM482 370h8v2h-8zM528 370h2v2h-2zM538 370h10v2h-10zM550 370h6v2h-6zM560 370h14v2h-14zM576 370h2v2h-2zM580 370h4v2h-4zM588 370h4v2h-4zM622 370h2v2h-2zM654 370h2v2h-2zM474 372h2v2h-2zM478 372h2v2h-2zM482 372h8v2h-8zM530 372h2v2h-2zM534 372h2v2h-2zM538 372h6v2h-6zM546 372h2v2h-2zM550 372h2v2h-2zM554 372h2v2h-2zM558 372h16v2h-16zM576 372h2v2h-2zM580 372h2v2h-2zM588 372h2v2h-2zM622 372h2v2h-2zM482 374h6v2h-6zM528 374h4v2h-4zM534 374h2v2h-2zM540 374h4v2h-4zM554 374h2v2h-2zM558 374h2v2h-2zM562 374h2v2h-2zM566 374h4v2h-4zM572 374h2v2h-2zM638 374h2v2h-2zM658 374h2v2h-2zM482 376h6v2h-6zM518 376h2v2h-2zM522 376h10v2h-10zM534 376h2v2h-2zM538 376h4v2h-4zM554 376h2v2h-2zM558 376h2v2h-2zM562 376h4v2h-4zM638 376h2v2h-2zM658 376h2v2h-2zM482 378h4v2h-4zM500 378h2v2h-2zM518 378h2v2h-2zM522 378h4v2h-4zM528 378h4v2h-4zM534 378h2v2h-2zM538 378h4v2h-4zM554 378h2v2h-2zM558 378h12v2h-12zM636 378h2v2h-2zM656 378h4v2h-4zM500 380h2v2h-2zM518 380h2v2h-2zM522 380h2v2h-2zM526 380h6v2h-6zM534 380h2v2h-2zM538 380h2v2h-2zM554 380h2v2h-2zM558 380h12v2h-12zM578 380h2v2h-2zM518 382h4v2h-4zM526 382h8v2h-8zM536 382h4v2h-4zM542 382h4v2h-4zM548 382h2v2h-2zM556 382h4v2h-4zM564 382h4v2h-4zM578 382h2v2h-2zM662 382h4v2h-4zM520 384h2v2h-2zM542 384h4v2h-4zM552 384h2v2h-2zM564 384h2v2h-2zM520 386h6v2h-6zM544 386h2v2h-2zM552 386h4v2h-4zM544 388h2v2h-2z"/>
<path fill="#0000ff" d="M432 354h2v2h-2zM438 356h2v2h-2zM430 358h2v2h-2zM438 358h4v2h-4zM430 360h2v2h-2z"/>
<path fill="#00ffff" d="M38 599h2v2h-2zM42 599h2v2h-2zM70 599h2v2h-2zM74 599h2v2h-2zM84 599h2v2h-2zM102 599h2v2h-2zM110 599h2v2h-2zM154 599h2v2h-2zM160 599h2v2h-2zM176 599h6v2h-6zM198 599h2v2h-2zM218 599h4v2h-4zM224 599h2v2h-2zM236 599h2v2h-2zM246 599h2v2h-2zM254 599h2v2h-2zM262 599h2v2h-2zM266 599h2v2h-2zM286 599h4v2h-4zM294 599h2v2h-2zM298 599h6v2h-6zM310 599h2v2h-2zM314 599h2v2h-2zM324 599h2v2h-2zM328 599h2v2h-2zM358 599h2v2h-2zM362 599h2v2h-2zM374 599h2v2h-2zM394 599h2v2h-2zM412 599h2v2h-2zM444 599h2v2h-2zM454 599h2v2h-2zM462 599h2v2h-2zM470 599h2v2h-2zM474 599h2v2h-2zM486 599h2v2h-2zM496 599h2v2h-2zM540 599h2v2h-2zM546 599h2v2h-2zM568 599h2v2h-2zM618 599h2v2h-2zM636 599h2v2h-2zM640 599h2v2h-2zM648 599h2v2h-2zM706 599h2v2h-2zM716 599h2v2h-2zM724 599h2v2h-2zM744 599h2v2h-2zM38 601h2v2h-2zM42 601h2v2h-2zM70 601h2v2h-2zM74 601h2v2h-2zM84 601h2v2h-2zM102 601h2v2h-2zM110 601h2v2h-2zM134 601h2v2h-2zM154 601h2v2h-2zM160 601h2v2h-2zM176 601h6v2h-6zM198 601h2v2h-2zM206 601h2v2h-2zM218 601h2v2h-2zM224 601h2v2h-2zM236 601h2v2h-2zM246 601h2v2h-2zM262 601h2v2h-2zM266 601h2v2h-2zM286 601h2v2h-2zM294 601h2v2h-2zM300 601h4v2h-4zM310 601h2v2h-2zM314 601h2v2h-2zM328 601h2v2h-2zM346 601h2v2h-2zM356 601h4v2h-4zM362 601h2v2h-2zM394 601h2v2h-2zM444 601h2v2h-2zM454 601h2v2h-2zM462 601h2v2h-2zM470 601h2v2h-2zM496 601h2v2h-2zM540 601h2v2h-2zM636 601h2v2h-2zM640 601h2v2h-2zM648 601h2v2h-2zM706 601h2v2h-2zM716 601h2v2h-2zM724 601h2v2h-2zM38 603h2v2h-2zM42 603h2v2h-2zM70 603h2v2h-2zM74 603h2v2h-2zM84 603h2v2h-2zM102 603h2v2h-2zM110 603h2v2h-2zM134 603h2v2h-2zM154 603h2v2h-2zM160 603h2v2h-2zM178 603h4v2h-4zM198 603h2v2h-2zM206 603h2v2h-2zM218 603h2v2h-2zM224 603h2v2h-2zM236 603h2v2h-2zM246 603h2v2h-2zM262 603h2v2h-2zM266 603h2v2h-2zM286 603h2v2h-2zM294 603h2v2h-2zM300 603h4v2h-4zM310 603h2v2h-2zM314 603h2v2h-2zM328 603h2v2h-2zM346 603h2v2h-2zM356 603h4v2h-4zM362 603h2v2h-2zM394 603h2v2h-2zM444 603h2v2h-2zM454 603h2v2h-2zM462 603h2v2h-2zM470 603h2v2h-2zM496 603h2v2h-2zM540 603h2v2h-2zM636 603h2v2h-2zM640 603h2v2h-2zM648 603h2v2h-2zM706 603h2v2h-2zM716 603h2v2h-2zM724 603h2v2h-2zM124 605h2v2h-2zM220 605h2v2h-2zM354 605h2v2h-2zM486 605h2v2h-2zM628 605h2v2h-2zM696 605h2v2h-2zM716 605h2v2h-2zM416 623h2v2h-2zM416 625h2v2h-2zM420 625h2v2h-2zM412 627h2v2h-2zM416 627h2v2h-2zM420 627h2v2h-2zM410 629h2v2h-2zM416 629h2v2h-2zM420 629h6v2h-6zM430 629h4v2h-4zM406 631h2v2h-2zM416 631h4v2h-4zM422 631h8v2h-8zM432 631h2v2h-2zM436 631h2v2h-2zM402 633h2v2h-2zM414 633h16v2h-16zM432 633h10v2h-10zM446 633h2v2h-2zM544 633h4v2h-4zM566 633h4v2h-4zM414 635h28v2h-28zM446 635h2v2h-2zM526 635h2v2h-2zM530 635h2v2h-2zM534 635h2v2h-2zM538 635h2v2h-2zM552 635h2v2h-2zM558 635h2v2h-2zM562 635h2v2h-2zM566 635h4v2h-4zM580 635h2v2h-2zM414 637h4v2h-4zM420 637h28v2h-28zM450 637h2v2h-2zM526 637h2v2h-2zM532 637h12v2h-12zM556 637h6v2h-6zM564 637h10v2h-10zM576 637h2v2h-2zM392 639h2v2h-2zM414 639h4v2h-4zM420 639h28v2h-28zM450 639h2v2h-2zM526 639h2v2h-2zM532 639h12v2h-12zM550 639h2v2h-2zM556 639h6v2h-6zM564 639h10v2h-10zM584 639h2v2h-2zM390 641h6v2h-6zM418 641h2v2h-2zM424 641h26v2h-26zM524 641h2v2h-2zM532 641h12v2h-12zM546 641h2v2h-2zM552 641h10v2h-10zM564 641h10v2h-10zM654 641h2v2h-2zM424 643h26v2h-26zM524 643h2v2h-2zM532 643h2v2h-2zM536 643h14v2h-14zM552 643h4v2h-4zM560 643h2v2h-2zM566 643h2v2h-2zM570 643h6v2h-6zM648 643h2v2h-2zM406 645h2v2h-2zM426 645h2v2h-2zM430 645h6v2h-6zM438 645h4v2h-4zM446 645h8v2h-8zM458 645h2v2h-2zM524 645h2v2h-2zM532 645h24v2h-24zM560 645h2v2h-2zM564 645h14v2h-14zM406 647h2v2h-2zM430 647h2v2h-2zM434 647h2v2h-2zM448 647h6v2h-6zM458 647h2v2h-2zM524 647h2v2h-2zM532 647h26v2h-26zM560 647h2v2h-2zM564 647h14v2h-14zM406 649h2v2h-2zM450 649h2v2h-2zM478 649h2v2h-2zM532 649h26v2h-26zM560 649h14v2h-14zM582 649h2v2h-2zM630 649h2v2h-2zM654 649h2v2h-2zM450 651h2v2h-2zM478 651h2v2h-2zM528 651h2v2h-2zM538 651h10v2h-10zM550 651h6v2h-6zM560 651h14v2h-14zM580 651h2v2h-2zM590 651h2v2h-2zM654 651h2v2h-2zM478 653h2v2h-2zM484 653h2v2h-2zM530 653h2v2h-2zM534 653h2v2h-2zM538 653h6v2h-6zM546 653h2v2h-2zM550 653h2v2h-2zM554 653h2v2h-2zM558 653h16v2h-16zM580 653h2v2h-2zM482 655h6v2h-6zM528 655h4v2h-4zM534 655h2v2h-2zM540 655h4v2h-4zM554 655h2v2h-2zM558 655h2v2h-2zM562 655h2v2h-2zM566 655h8v2h-8zM638 655h2v2h-2zM658 655h2v2h-2zM482 657h6v2h-6zM518 657h2v2h-2zM522 657h10v2h-10zM534 657h2v2h-2zM538 657h4v2h-4zM554 657h2v2h-2zM558 657h2v2h-2zM562 657h4v2h-4zM570 657h2v2h-2zM638 657h2v2h-2zM658 657h2v2h-2zM482 659h4v2h-4zM518 659h2v2h-2zM522 659h4v2h-4zM528 659h4v2h-4zM534 659h2v2h-2zM538 659h4v2h-4zM554 659h2v2h-2zM558 659h12v2h-12zM636 659h2v2h-2zM656 659h4v2h-4zM500 661h2v2h-2zM518 661h2v2h-2zM522 661h2v2h-2zM526 661h6v2h-6zM534 661h2v2h-2zM538 661h2v2h-2zM554 661h2v2h-2zM558 661h12v2h-12zM578 661h2v2h-2zM504 663h2v2h-2zM518 663h4v2h-4zM526 663h8v2h-8zM536 663h4v2h-4zM542 663h4v2h-4zM548 663h2v2h-2zM556 663h4v2h-4zM564 663h4v2h-4zM578 663h2v2h-2zM662 663h4v2h-4zM520 665h2v2h-2zM542 665h4v2h-4zM552 665h2v2h-2zM564 665h2v2h-2zM520 667h6v2h-6zM544 667h2v2h-2zM552 667h4v2h-4zM544 669h2v2h-2z"/>
<path fill="#00c0ff" d="M134 599h2v2h-2zM206 599h2v2h-2zM334 599h2v2h-2zM346 599h2v2h-2zM356 599h2v2h-2zM438 599h2v2h-2zM426 617h2v2h-2zM416 619h2v2h-2zM426 619h2v2h-2zM412 621h2v2h-2zM416 621h2v2h-2zM420 621h2v2h-2zM426 621h2v2h-2zM410 623h6v2h-6zM420 623h2v2h-2zM446 623h2v2h-2zM400 625h2v2h-2zM410 625h6v2h-6zM424 625h2v2h-2zM434 625h2v2h-2zM446 625h2v2h-2zM540 625h2v2h-2zM376 627h2v2h-2zM384 627h2v2h-2zM392 627h2v2h-2zM400 627h2v2h-2zM404 627h4v2h-4zM410 627h2v2h-2zM414 627h2v2h-2zM418 627h2v2h-2zM422 627h12v2h-12zM446 627h4v2h-4zM452 627h4v2h-4zM540 627h2v2h-2zM544 627h2v2h-2zM548 627h2v2h-2zM554 627h2v2h-2zM560 627h2v2h-2zM564 627h2v2h-2zM572 627h2v2h-2zM368 629h2v2h-2zM376 629h2v2h-2zM384 629h2v2h-2zM388 629h2v2h-2zM392 629h2v2h-2zM398 629h4v2h-4zM404 629h4v2h-4zM414 629h2v2h-2zM418 629h2v2h-2zM426 629h4v2h-4zM436 629h2v2h-2zM440 629h10v2h-10zM452 629h4v2h-4zM534 629h2v2h-2zM540 629h2v2h-2zM544 629h6v2h-6zM554 629h2v2h-2zM560 629h2v2h-2zM564 629h2v2h-2zM572 629h2v2h-2zM576 629h2v2h-2zM368 631h2v2h-2zM384 631h2v2h-2zM388 631h6v2h-6zM398 631h8v2h-8zM410 631h2v2h-2zM420 631h2v2h-2zM430 631h2v2h-2zM434 631h2v2h-2zM438 631h12v2h-12zM452 631h6v2h-6zM534 631h8v2h-8zM544 631h6v2h-6zM554 631h2v2h-2zM560 631h2v2h-2zM564 631h6v2h-6zM572 631h2v2h-2zM576 631h2v2h-2zM580 631h2v2h-2zM368 633h2v2h-2zM382 633h2v2h-2zM388 633h2v2h-2zM398 633h2v2h-2zM404 633h4v2h-4zM410 633h2v2h-2zM430 633h2v2h-2zM442 633h4v2h-4zM448 633h2v2h-2zM452 633h6v2h-6zM462 633h4v2h-4zM472 633h2v2h-2zM524 633h18v2h-18zM548 633h2v2h-2zM562 633h4v2h-4zM572 633h2v2h-2zM576 633h2v2h-2zM580 633h2v2h-2zM584 633h2v2h-2zM254 635h2v2h-2zM382 635h8v2h-8zM402 635h4v2h-4zM410 635h2v2h-2zM442 635h4v2h-4zM448 635h10v2h-10zM462 635h4v2h-4zM472 635h2v2h-2zM480 635h2v2h-2zM514 635h2v2h-2zM524 635h2v2h-2zM528 635h2v2h-2zM532 635h2v2h-2zM536 635h2v2h-2zM540 635h2v2h-2zM546 635h2v2h-2zM564 635h2v2h-2zM576 635h2v2h-2zM584 635h2v2h-2zM588 635h2v2h-2zM594 635h2v2h-2zM640 635h2v2h-2zM644 635h2v2h-2zM254 637h2v2h-2zM382 637h8v2h-8zM394 637h2v2h-2zM404 637h2v2h-2zM418 637h2v2h-2zM448 637h2v2h-2zM452 637h8v2h-8zM462 637h6v2h-6zM472 637h2v2h-2zM476 637h2v2h-2zM508 637h2v2h-2zM512 637h4v2h-4zM524 637h2v2h-2zM528 637h4v2h-4zM546 637h4v2h-4zM554 637h2v2h-2zM562 637h2v2h-2zM584 637h2v2h-2zM588 637h4v2h-4zM594 637h2v2h-2zM640 637h2v2h-2zM644 637h2v2h-2zM648 637h2v2h-2zM688 637h2v2h-2zM254 639h2v2h-2zM328 639h2v2h-2zM350 639h2v2h-2zM384 639h4v2h-4zM390 639h2v2h-2zM394 639h6v2h-6zM404 639h2v2h-2zM412 639h2v2h-2zM418 639h2v2h-2zM448 639h2v2h-2zM452 639h8v2h-8zM462 639h18v2h-18zM508 639h2v2h-2zM512 639h4v2h-4zM522 639h4v2h-4zM528 639h4v2h-4zM546 639h4v2h-4zM554 639h2v2h-2zM574 639h4v2h-4zM586 639h6v2h-6zM640 639h2v2h-2zM644 639h2v2h-2zM648 639h2v2h-2zM688 639h2v2h-2zM328 641h2v2h-2zM386 641h2v2h-2zM396 641h4v2h-4zM404 641h2v2h-2zM410 641h2v2h-2zM416 641h2v2h-2zM420 641h2v2h-2zM450 641h10v2h-10zM466 641h16v2h-16zM484 641h2v2h-2zM490 641h2v2h-2zM502 641h8v2h-8zM512 641h4v2h-4zM518 641h2v2h-2zM522 641h2v2h-2zM528 641h2v2h-2zM544 641h2v2h-2zM548 641h2v2h-2zM574 641h2v2h-2zM578 641h2v2h-2zM582 641h14v2h-14zM628 641h2v2h-2zM632 641h2v2h-2zM640 641h2v2h-2zM648 641h2v2h-2zM688 641h2v2h-2zM328 643h2v2h-2zM350 643h2v2h-2zM390 643h10v2h-10zM404 643h2v2h-2zM410 643h2v2h-2zM414 643h2v2h-2zM418 643h2v2h-2zM422 643h2v2h-2zM450 643h10v2h-10zM466 643h16v2h-16zM484 643h2v2h-2zM490 643h2v2h-2zM498 643h2v2h-2zM502 643h8v2h-8zM512 643h4v2h-4zM518 643h6v2h-6zM528 643h4v2h-4zM534 643h2v2h-2zM550 643h2v2h-2zM556 643h2v2h-2zM576 643h18v2h-18zM628 643h2v2h-2zM748 643h2v2h-2zM350 645h2v2h-2zM390 645h10v2h-10zM402 645h4v2h-4zM410 645h10v2h-10zM422 645h4v2h-4zM428 645h2v2h-2zM436 645h2v2h-2zM442 645h4v2h-4zM454 645h4v2h-4zM460 645h4v2h-4zM466 645h16v2h-16zM484 645h2v2h-2zM488 645h6v2h-6zM498 645h2v2h-2zM502 645h8v2h-8zM512 645h10v2h-10zM528 645h4v2h-4zM556 645h2v2h-2zM578 645h2v2h-2zM582 645h8v2h-8zM620 645h2v2h-2zM628 645h6v2h-6zM640 645h2v2h-2zM648 645h2v2h-2zM738 645h4v2h-4zM748 645h2v2h-2zM350 647h2v2h-2zM394 647h2v2h-2zM398 647h2v2h-2zM402 647h4v2h-4zM410 647h8v2h-8zM420 647h2v2h-2zM424 647h6v2h-6zM432 647h2v2h-2zM436 647h12v2h-12zM454 647h4v2h-4zM460 647h30v2h-30zM492 647h4v2h-4zM498 647h2v2h-2zM502 647h8v2h-8zM516 647h8v2h-8zM526 647h6v2h-6zM558 647h2v2h-2zM578 647h18v2h-18zM600 647h2v2h-2zM606 647h2v2h-2zM616 647h2v2h-2zM620 647h6v2h-6zM630 647h8v2h-8zM642 647h2v2h-2zM654 647h2v2h-2zM670 647h2v2h-2zM684 647h2v2h-2zM738 647h4v2h-4zM746 647h4v2h-4zM402 649h4v2h-4zM410 649h4v2h-4zM416 649h6v2h-6zM424 649h12v2h-12zM438 649h12v2h-12zM452 649h14v2h-14zM468 649h10v2h-10zM480 649h10v2h-10zM492 649h4v2h-4zM500 649h8v2h-8zM516 649h16v2h-16zM558 649h2v2h-2zM574 649h8v2h-8zM584 649h18v2h-18zM604 649h4v2h-4zM616 649h2v2h-2zM620 649h10v2h-10zM634 649h6v2h-6zM642 649h2v2h-2zM648 649h2v2h-2zM652 649h2v2h-2zM670 649h2v2h-2zM684 649h2v2h-2zM690 649h2v2h-2zM738 649h4v2h-4zM394 651h2v2h-2zM406 651h2v2h-2zM410 651h4v2h-4zM416 651h2v2h-2zM420 651h2v2h-2zM424 651h2v2h-2zM430 651h6v2h-6zM438 651h8v2h-8zM448 651h2v2h-2zM452 651h14v2h-14zM468 651h10v2h-10zM480 651h10v2h-10zM492 651h6v2h-6zM502 651h4v2h-4zM516 651h12v2h-12zM530 651h4v2h-4zM548 651h2v2h-2zM556 651h2v2h-2zM574 651h6v2h-6zM582 651h8v2h-8zM594 651h8v2h-8zM604 651h4v2h-4zM616 651h2v2h-2zM620 651h26v2h-26zM648 651h2v2h-2zM652 651h2v2h-2zM658 651h2v2h-2zM670 651h2v2h-2zM684 651h4v2h-4zM690 651h2v2h-2zM738 651h2v2h-2zM746 651h2v2h-2zM420 653h2v2h-2zM424 653h2v2h-2zM430 653h2v2h-2zM434 653h2v2h-2zM438 653h6v2h-6zM448 653h12v2h-12zM464 653h2v2h-2zM468 653h10v2h-10zM480 653h4v2h-4zM486 653h12v2h-12zM504 653h2v2h-2zM510 653h2v2h-2zM516 653h14v2h-14zM532 653h2v2h-2zM544 653h2v2h-2zM548 653h2v2h-2zM552 653h2v2h-2zM556 653h2v2h-2zM574 653h6v2h-6zM584 653h18v2h-18zM604 653h4v2h-4zM616 653h2v2h-2zM622 653h24v2h-24zM648 653h2v2h-2zM652 653h4v2h-4zM658 653h2v2h-2zM686 653h10v2h-10zM698 653h2v2h-2zM708 653h2v2h-2zM738 653h2v2h-2zM746 653h2v2h-2zM438 655h6v2h-6zM448 655h10v2h-10zM468 655h14v2h-14zM488 655h18v2h-18zM510 655h4v2h-4zM516 655h12v2h-12zM532 655h2v2h-2zM538 655h2v2h-2zM546 655h2v2h-2zM550 655h4v2h-4zM556 655h2v2h-2zM560 655h2v2h-2zM564 655h2v2h-2zM574 655h10v2h-10zM586 655h8v2h-8zM596 655h2v2h-2zM600 655h2v2h-2zM604 655h2v2h-2zM616 655h2v2h-2zM622 655h16v2h-16zM640 655h6v2h-6zM648 655h2v2h-2zM652 655h2v2h-2zM662 655h2v2h-2zM680 655h2v2h-2zM686 655h4v2h-4zM692 655h4v2h-4zM708 655h2v2h-2zM362 657h2v2h-2zM438 657h4v2h-4zM454 657h4v2h-4zM472 657h10v2h-10zM488 657h18v2h-18zM510 657h8v2h-8zM520 657h2v2h-2zM532 657h2v2h-2zM542 657h2v2h-2zM550 657h4v2h-4zM556 657h2v2h-2zM560 657h2v2h-2zM566 657h4v2h-4zM572 657h2v2h-2zM576 657h8v2h-8zM588 657h8v2h-8zM602 657h4v2h-4zM608 657h2v2h-2zM616 657h2v2h-2zM622 657h2v2h-2zM626 657h8v2h-8zM636 657h2v2h-2zM642 657h4v2h-4zM652 657h2v2h-2zM656 657h2v2h-2zM660 657h2v2h-2zM680 657h2v2h-2zM686 657h4v2h-4zM692 657h4v2h-4zM698 657h2v2h-2zM708 657h2v2h-2zM362 659h2v2h-2zM444 659h2v2h-2zM472 659h10v2h-10zM486 659h20v2h-20zM510 659h8v2h-8zM520 659h2v2h-2zM526 659h2v2h-2zM532 659h2v2h-2zM536 659h2v2h-2zM542 659h12v2h-12zM556 659h2v2h-2zM570 659h4v2h-4zM578 659h6v2h-6zM588 659h8v2h-8zM598 659h2v2h-2zM602 659h4v2h-4zM608 659h2v2h-2zM616 659h2v2h-2zM622 659h2v2h-2zM626 659h8v2h-8zM638 659h8v2h-8zM652 659h2v2h-2zM660 659h4v2h-4zM680 659h2v2h-2zM686 659h4v2h-4zM692 659h4v2h-4zM698 659h2v2h-2zM736 659h2v2h-2zM362 661h2v2h-2zM444 661h2v2h-2zM476 661h4v2h-4zM482 661h12v2h-12zM498 661h2v2h-2zM502 661h4v2h-4zM510 661h8v2h-8zM520 661h2v2h-2zM524 661h2v2h-2zM532 661h2v2h-2zM536 661h2v2h-2zM540 661h14v2h-14zM570 661h4v2h-4zM580 661h4v2h-4zM588 661h6v2h-6zM598 661h6v2h-6zM606 661h4v2h-4zM616 661h2v2h-2zM624 661h6v2h-6zM662 661h4v2h-4zM482 663h4v2h-4zM490 663h2v2h-2zM502 663h2v2h-2zM510 663h8v2h-8zM522 663h4v2h-4zM534 663h2v2h-2zM540 663h2v2h-2zM546 663h2v2h-2zM550 663h6v2h-6zM560 663h4v2h-4zM568 663h2v2h-2zM580 663h2v2h-2zM584 663h2v2h-2zM588 663h2v2h-2zM598 663h6v2h-6zM606 663h4v2h-4zM624 663h2v2h-2zM628 663h4v2h-4zM636 663h2v2h-2zM640 663h4v2h-4zM656 663h2v2h-2zM660 663h2v2h-2zM672 663h2v2h-2zM680 663h2v2h-2zM736 663h4v2h-4zM362 665h2v2h-2zM504 665h2v2h-2zM510 665h10v2h-10zM522 665h18v2h-18zM548 665h4v2h-4zM554 665h4v2h-4zM562 665h2v2h-2zM566 665h8v2h-8zM580 665h2v2h-2zM584 665h2v2h-2zM588 665h2v2h-2zM598 665h6v2h-6zM606 665h2v2h-2zM624 665h2v2h-2zM630 665h4v2h-4zM636 665h8v2h-8zM660 665h6v2h-6zM678 665h4v2h-4zM730 665h2v2h-2zM738 665h2v2h-2zM512 667h8v2h-8zM526 667h2v2h-2zM538 667h2v2h-2zM542 667h2v2h-2zM546 667h6v2h-6zM558 667h2v2h-2zM564 667h8v2h-8zM580 667h2v2h-2zM584 667h2v2h-2zM588 667h2v2h-2zM598 667h2v2h-2zM602 667h2v2h-2zM628 667h2v2h-2zM664 667h2v2h-2zM678 667h4v2h-4zM730 667h2v2h-2zM738 667h2v2h-2zM516 669h8v2h-8zM526 669h2v2h-2zM546 669h2v2h-2zM552 669h8v2h-8zM564 669h6v2h-6zM580 669h2v2h-2zM598 669h2v2h-2zM602 669h2v2h-2zM628 669h2v2h-2zM636 669h2v2h-2zM664 669h2v2h-2zM678 669h2v2h-2zM738 669h2v2h-2zM520 671h2v2h-2zM526 671h2v2h-2zM544 671h2v2h-2zM552 671h8v2h-8zM598 671h2v2h-2zM602 671h2v2h-2zM624 671h2v2h-2zM664 671h2v2h-2zM738 671h2v2h-2zM520 673h2v2h-2zM556 673h4v2h-4zM738 673h2v2h-2z"/>
<path fill="#00c000" d="M124 601h2v2h-2zM220 601h2v2h-2zM254 601h2v2h-2zM288 601h2v2h-2zM298 601h2v2h-2zM324 601h2v2h-2zM334 601h2v2h-2zM354 601h2v2h-2zM374 601h2v2h-2zM412 601h2v2h-2zM438 601h2v2h-2zM474 601h2v2h-2zM486 601h2v2h-2zM494 601h2v2h-2zM546 601h2v2h-2zM568 601h2v2h-2zM618 601h2v2h-2zM628 601h2v2h-2zM696 601h2v2h-2zM744 601h2v2h-2zM124 603h2v2h-2zM176 603h2v2h-2zM220 603h2v2h-2zM254 603h2v2h-2zM288 603h2v2h-2zM298 603h2v2h-2zM324 603h2v2h-2zM334 603h2v2h-2zM354 603h2v2h-2zM374 603h2v2h-2zM412 603h2v2h-2zM438 603h2v2h-2zM474 603h2v2h-2zM486 603h2v2h-2zM494 603h2v2h-2zM546 603h2v2h-2zM568 603h2v2h-2zM618 603h2v2h-2zM628 603h2v2h-2zM696 603h2v2h-2zM744 603h2v2h-2z"/>
<path fill="#0000c0" d="M376 623h2v2h-2zM406 623h2v2h-2zM534 625h2v2h-2zM518 639h2v2h-2zM462 643h2v2h-2zM594 643h2v2h-2zM594 645h2v2h-2zM452 657h2v2h-2zM452 659h2v2h-2zM672 661h2v2h-2zM668 663h2v2h-2zM608 665h2v2h-2zM668 665h2v2h-2zM672 665h2v2h-2zM600 667h2v2h-2zM668 667h2v2h-2zM548 669h4v2h-4zM636 671h2v2h-2zM526 823h2v2h-2zM526 825h2v2h-2z"/>
<path fill="#dedede" d="M444 655h2v2h-2zM624 669h2v2h-2z"/>
<path fill="#ffffff" d="M526 821h2v2h-2z"/>
<rect x="132" y="837" width="12" height="4" fill="#ffffff"/>
<rect x="304" y="837" width="14" height="4" fill="#ffffff"/>
<rect x="482" y="837" width="14" height="4" fill="#ffffff"/>
<rect x="508" y="837" width="2" height="4" fill="#ffffff"/>
<rect x="654" y="837" width="14" height="4" fill="#ffffff"/>
<rect x="134" y="837" width="2" height="1" fill="#dedede"/><rect x="310" y="837" width="2" height="1" fill="#dedede"/><rect x="654" y="837" width="2" height="2" fill="#dedede"/>

<rect x="30" y="25" width="720" height="1" fill="#000"/>
<rect x="30" y="40" width="720" height="1" fill="#000"/>
<rect x="30" y="100" width="720" height="1" fill="#000"/>
<rect x="30" y="160" width="720" height="1" fill="#000"/>
<rect x="30" y="220" width="720" height="1" fill="#000"/>
<rect x="30" y="280" width="720" height="1" fill="#000"/>
<rect x="30" y="25" width="1" height="256" fill="#000"/>
<rect x="210" y="25" width="1" height="256" fill="#000"/>
<rect x="390" y="25" width="1" height="256" fill="#000"/>
<rect x="570" y="25" width="1" height="256" fill="#000"/>
<rect x="749" y="25" width="1" height="256" fill="#000"/>
<rect x="30" y="306" width="720" height="1" fill="#000"/>
<rect x="30" y="321" width="720" height="1" fill="#000"/>
<rect x="30" y="381" width="720" height="1" fill="#000"/>
<rect x="30" y="441" width="720" height="1" fill="#000"/>
<rect x="30" y="501" width="720" height="1" fill="#000"/>
<rect x="30" y="561" width="720" height="1" fill="#000"/>
<rect x="30" y="306" width="1" height="256" fill="#000"/>
<rect x="210" y="306" width="1" height="256" fill="#000"/>
<rect x="390" y="306" width="1" height="256" fill="#000"/>
<rect x="570" y="306" width="1" height="256" fill="#000"/>
<rect x="749" y="306" width="1" height="256" fill="#000"/>
<rect x="30" y="587" width="720" height="1" fill="#000"/>
<rect x="30" y="602" width="720" height="1" fill="#000"/>
<rect x="30" y="662" width="720" height="1" fill="#000"/>
<rect x="30" y="722" width="720" height="1" fill="#000"/>
<rect x="30" y="782" width="720" height="1" fill="#000"/>
<rect x="30" y="842" width="720" height="1" fill="#000"/>
<rect x="30" y="587" width="1" height="256" fill="#000"/>
<rect x="210" y="587" width="1" height="256" fill="#000"/>
<rect x="390" y="587" width="1" height="256" fill="#000"/>
<rect x="570" y="587" width="1" height="256" fill="#000"/>
<rect x="749" y="587" width="1" height="256" fill="#000"/>
<rect x="292" y="13" width="10" height="2" fill="#000"/>
<rect x="332" y="13" width="10" height="2" fill="#000"/>
<rect x="444" y="13" width="10" height="2" fill="#000"/>
<rect x="1" y="95" width="24" height="1" fill="#000"/>
<rect x="1" y="370" width="24" height="1" fill="#000"/>
<rect x="1" y="665" width="24" height="1" fill="#000"/>
<rect x="784" y="78" width="31" height="13" fill="#ff00ff"/>
<rect x="784" y="91" width="31" height="14" fill="#ff0000"/>
<rect x="784" y="105" width="31" height="13" fill="#ff8000"/>
<rect x="784" y="118" width="31" height="14" fill="#ffff00"/>
<rect x="784" y="132" width="31" height="14" fill="#80ff00"/>
<rect x="784" y="146" width="31" height="13" fill="#00c000"/>
<rect x="784" y="159" width="31" height="14" fill="#00ffff"/>
<rect x="784" y="173" width="31" height="14" fill="#0080ff"/>
<rect x="784" y="187" width="31" height="13" fill="#0000ff"/>
<rect x="784" y="214" width="31" height="14" fill="#dedede"/>
<rect x="784" y="359" width="31" height="9" fill="#000000"/>
<rect x="784" y="368" width="31" height="9" fill="#500050"/>
<rect x="784" y="377" width="31" height="10" fill="#a000a0"/>
<rect x="784" y="387" width="31" height="9" fill="#ff00ff"/>
<rect x="784" y="396" width="31" height="9" fill="#ff0080"/>
<rect x="784" y="405" width="31" height="10" fill="#ff0000"/>
<rect x="784" y="415" width="31" height="9" fill="#ff8000"/>
<rect x="784" y="424" width="31" height="10" fill="#ffff00"/>
<rect x="784" y="434" width="31" height="9" fill="#80ff40"/>
<rect x="784" y="443" width="31" height="9" fill="#00c000"/>
<rect x="784" y="452" width="31" height="10" fill="#0000ff"/>
<rect x="784" y="462" width="31" height="9" fill="#0080ff"/>
<rect x="784" y="471" width="31" height="9" fill="#00ffff"/>
<rect x="784" y="480" width="31" height="10" fill="#80ffff"/>
<rect x="784" y="499" width="31" height="10" fill="#dedede"/>
<rect x="784" y="640" width="31" height="12" fill="#a040a0"/>
<rect x="784" y="652" width="31" height="13" fill="#e000e0"/>
<rect x="784" y="665" width="31" height="12" fill="#a000a0"/>
<rect x="784" y="677" width="31" height="13" fill="#ff0000"/>
<rect x="784" y="690" width="31" height="12" fill="#ff8000"/>
<rect x="784" y="702" width="31" height="13" fill="#ffff00"/>
<rect x="784" y="715" width="31" height="12" fill="#00c000"/>
<rect x="784" y="727" width="31" height="13" fill="#00ffff"/>
<rect x="784" y="740" width="31" height="12" fill="#00c0ff"/>
<rect x="784" y="752" width="31" height="13" fill="#0000c0"/>
<rect x="784" y="777" width="31" height="13" fill="#dedede"/>
<rect x="819" y="765" width="5" height="1" fill="#000"/>
<g filter="url(#thr)">
<text x="241" y="21" font-family='"Liberation Sans", sans-serif' font-size="24" text-anchor="start" textLength="48" lengthAdjust="spacingAndGlyphs">2024</text>
<text x="305" y="21" font-family='"Liberation Sans", sans-serif' font-size="24" text-anchor="start" textLength="24" lengthAdjust="spacingAndGlyphs">04</text>
<text x="345" y="21" font-family='"Liberation Sans", sans-serif' font-size="24" text-anchor="start" textLength="24" lengthAdjust="spacingAndGlyphs">27</text>
<text x="387" y="21" font-family='"Liberation Sans", sans-serif' font-size="24" text-anchor="start" textLength="54" lengthAdjust="spacingAndGlyphs">22:00</text>
<text x="457" y="21" font-family='"Liberation Sans", sans-serif' font-size="24" text-anchor="start" textLength="54" lengthAdjust="spacingAndGlyphs">23:00</text>
<text x="518" y="21" font-family='"Liberation Serif", serif' font-size="25" text-anchor="start" textLength="45.5" lengthAdjust="spacingAndGlyphs" class="big">UTC</text>
<text x="17.4" y="294" font-family='"Liberation Sans", sans-serif' font-size="12.6" text-anchor="start" textLength="27.2" lengthAdjust="spacingAndGlyphs">22:00</text>
<text x="197.4" y="294" font-family='"Liberation Sans", sans-serif' font-size="12.6" text-anchor="start" textLength="27.2" lengthAdjust="spacingAndGlyphs">22:15</text>
<text x="377.4" y="294" font-family='"Liberation Sans", sans-serif' font-size="12.6" text-anchor="start" textLength="27.2" lengthAdjust="spacingAndGlyphs">22:30</text>
<text x="557.4" y="294" font-family='"Liberation Sans", sans-serif' font-size="12.6" text-anchor="start" textLength="27.2" lengthAdjust="spacingAndGlyphs">22:45</text>
<text x="737.4" y="294" font-family='"Liberation Sans", sans-serif' font-size="12.6" text-anchor="start" textLength="27.2" lengthAdjust="spacingAndGlyphs">23:00</text>
<text x="17.4" y="574" font-family='"Liberation Sans", sans-serif' font-size="12.6" text-anchor="start" textLength="27.2" lengthAdjust="spacingAndGlyphs">22:00</text>
<text x="197.4" y="574" font-family='"Liberation Sans", sans-serif' font-size="12.6" text-anchor="start" textLength="27.2" lengthAdjust="spacingAndGlyphs">22:15</text>
<text x="377.4" y="574" font-family='"Liberation Sans", sans-serif' font-size="12.6" text-anchor="start" textLength="27.2" lengthAdjust="spacingAndGlyphs">22:30</text>
<text x="557.4" y="574" font-family='"Liberation Sans", sans-serif' font-size="12.6" text-anchor="start" textLength="27.2" lengthAdjust="spacingAndGlyphs">22:45</text>
<text x="737.4" y="574" font-family='"Liberation Sans", sans-serif' font-size="12.6" text-anchor="start" textLength="27.2" lengthAdjust="spacingAndGlyphs">23:00</text>
<text x="17.4" y="854" font-family='"Liberation Sans", sans-serif' font-size="12.6" text-anchor="start" textLength="27.2" lengthAdjust="spacingAndGlyphs">22:00</text>
<text x="197.4" y="854" font-family='"Liberation Sans", sans-serif' font-size="12.6" text-anchor="start" textLength="27.2" lengthAdjust="spacingAndGlyphs">22:15</text>
<text x="377.4" y="854" font-family='"Liberation Sans", sans-serif' font-size="12.6" text-anchor="start" textLength="27.2" lengthAdjust="spacingAndGlyphs">22:30</text>
<text x="557.4" y="854" font-family='"Liberation Sans", sans-serif' font-size="12.6" text-anchor="start" textLength="27.2" lengthAdjust="spacingAndGlyphs">22:45</text>
<text x="737.4" y="854" font-family='"Liberation Sans", sans-serif' font-size="12.6" text-anchor="start" textLength="27.2" lengthAdjust="spacingAndGlyphs">23:00</text>
<text x="753.5" y="47" font-family='"Liberation Sans", sans-serif' font-size="12.6" text-anchor="start" textLength="6.2" lengthAdjust="spacingAndGlyphs">3</text>
<text x="762.8" y="47" font-family='"Liberation Serif", serif' font-size="13" text-anchor="start" textLength="15.5" lengthAdjust="spacingAndGlyphs" class="sm">km</text>
<text x="753.5" y="126" font-family='"Liberation Sans", sans-serif' font-size="12.6" text-anchor="start" textLength="6.2" lengthAdjust="spacingAndGlyphs">2</text>
<text x="762.8" y="126" font-family='"Liberation Serif", serif' font-size="13" text-anchor="start" textLength="15.5" lengthAdjust="spacingAndGlyphs" class="sm">km</text>
<text x="753.5" y="207" font-family='"Liberation Sans", sans-serif' font-size="12.6" text-anchor="start" textLength="6.2" lengthAdjust="spacingAndGlyphs">1</text>
<text x="762.8" y="207" font-family='"Liberation Serif", serif' font-size="13" text-anchor="start" textLength="15.5" lengthAdjust="spacingAndGlyphs" class="sm">km</text>
<text x="753.5" y="285" font-family='"Liberation Sans", sans-serif' font-size="12.6" text-anchor="start" textLength="6.2" lengthAdjust="spacingAndGlyphs">0</text>
<text x="762.8" y="285" font-family='"Liberation Serif", serif' font-size="13" text-anchor="start" textLength="15.5" lengthAdjust="spacingAndGlyphs" class="sm">km</text>
<text x="753.5" y="325" font-family='"Liberation Sans", sans-serif' font-size="12.6" text-anchor="start" textLength="6.2" lengthAdjust="spacingAndGlyphs">3</text>
<text x="762.8" y="325" font-family='"Liberation Serif", serif' font-size="13" text-anchor="start" textLength="15.5" lengthAdjust="spacingAndGlyphs" class="sm">km</text>
<text x="753.5" y="404" font-family='"Liberation Sans", sans-serif' font-size="12.6" text-anchor="start" textLength="6.2" lengthAdjust="spacingAndGlyphs">2</text>
<text x="762.8" y="404" font-family='"Liberation Serif", serif' font-size="13" text-anchor="start" textLength="15.5" lengthAdjust="spacingAndGlyphs" class="sm">km</text>
<text x="753.5" y="487" font-family='"Liberation Sans", sans-serif' font-size="12.6" text-anchor="start" textLength="6.2" lengthAdjust="spacingAndGlyphs">1</text>
<text x="762.8" y="487" font-family='"Liberation Serif", serif' font-size="13" text-anchor="start" textLength="15.5" lengthAdjust="spacingAndGlyphs" class="sm">km</text>
<text x="753.5" y="565" font-family='"Liberation Sans", sans-serif' font-size="12.6" text-anchor="start" textLength="6.2" lengthAdjust="spacingAndGlyphs">0</text>
<text x="762.8" y="565" font-family='"Liberation Serif", serif' font-size="13" text-anchor="start" textLength="15.5" lengthAdjust="spacingAndGlyphs" class="sm">km</text>
<text x="753.5" y="607" font-family='"Liberation Sans", sans-serif' font-size="12.6" text-anchor="start" textLength="6.2" lengthAdjust="spacingAndGlyphs">3</text>
<text x="762.8" y="607" font-family='"Liberation Serif", serif' font-size="13" text-anchor="start" textLength="15.5" lengthAdjust="spacingAndGlyphs" class="sm">km</text>
<text x="753.5" y="686" font-family='"Liberation Sans", sans-serif' font-size="12.6" text-anchor="start" textLength="6.2" lengthAdjust="spacingAndGlyphs">2</text>
<text x="762.8" y="686" font-family='"Liberation Serif", serif' font-size="13" text-anchor="start" textLength="15.5" lengthAdjust="spacingAndGlyphs" class="sm">km</text>
<text x="753.5" y="767" font-family='"Liberation Sans", sans-serif' font-size="12.6" text-anchor="start" textLength="6.2" lengthAdjust="spacingAndGlyphs">1</text>
<text x="762.8" y="767" font-family='"Liberation Serif", serif' font-size="13" text-anchor="start" textLength="15.5" lengthAdjust="spacingAndGlyphs" class="sm">km</text>
<text x="753.5" y="845" font-family='"Liberation Sans", sans-serif' font-size="12.6" text-anchor="start" textLength="6.2" lengthAdjust="spacingAndGlyphs">0</text>
<text x="762.8" y="845" font-family='"Liberation Serif", serif' font-size="13" text-anchor="start" textLength="15.5" lengthAdjust="spacingAndGlyphs" class="sm">km</text>
<text transform="translate(19,225) rotate(-90)" font-family='"Liberation Serif", serif' font-size="25" class="big" textLength="126" lengthAdjust="spacingAndGlyphs">Fall Velocity</text>
<text transform="translate(19,513) rotate(-90)" font-family='"Liberation Serif", serif' font-size="25" class="big" textLength="139" lengthAdjust="spacingAndGlyphs">Rain Intensity</text>
<text transform="translate(19,780) rotate(-90)" font-family='"Liberation Serif", serif' font-size="25" class="big" textLength="111" lengthAdjust="spacingAndGlyphs">Reflectivity</text>
<text x="800.6" y="76" font-family='"Liberation Serif", serif' font-size="13.5" text-anchor="start" textLength="18.3" lengthAdjust="spacingAndGlyphs" class="sm">m/s</text>
<text x="817.5" y="94" font-family='"Liberation Sans", sans-serif' font-size="12.6" text-anchor="start" textLength="15.2" lengthAdjust="spacingAndGlyphs">8.0</text>
<text x="817.5" y="108" font-family='"Liberation Sans", sans-serif' font-size="12.6" text-anchor="start" textLength="15.2" lengthAdjust="spacingAndGlyphs">7.0</text>
<text x="817.5" y="122" font-family='"Liberation Sans", sans-serif' font-size="12.6" text-anchor="start" textLength="15.2" lengthAdjust="spacingAndGlyphs">6.0</text>
<text x="817.5" y="136" font-family='"Liberation Sans", sans-serif' font-size="12.6" text-anchor="start" textLength="15.2" lengthAdjust="spacingAndGlyphs">5.0</text>
<text x="817.5" y="150" font-family='"Liberation Sans", sans-serif' font-size="12.6" text-anchor="start" textLength="15.2" lengthAdjust="spacingAndGlyphs">4.0</text>
<text x="817.5" y="164" font-family='"Liberation Sans", sans-serif' font-size="12.6" text-anchor="start" textLength="15.2" lengthAdjust="spacingAndGlyphs">3.0</text>
<text x="817.5" y="178" font-family='"Liberation Sans", sans-serif' font-size="12.6" text-anchor="start" textLength="15.2" lengthAdjust="spacingAndGlyphs">2.0</text>
<text x="817.5" y="192" font-family='"Liberation Sans", sans-serif' font-size="12.6" text-anchor="start" textLength="15.2" lengthAdjust="spacingAndGlyphs">1.0</text>
<text x="817.5" y="206" font-family='"Liberation Sans", sans-serif' font-size="12.6" text-anchor="start" textLength="15.2" lengthAdjust="spacingAndGlyphs">0.0</text>
<text x="818" y="220" font-family='"Liberation Serif", serif' font-size="13" text-anchor="start" textLength="23.5" lengthAdjust="spacingAndGlyphs" class="sm">miss</text>
<text x="800.6" y="356" font-family='"Liberation Serif", serif' font-size="13.5" text-anchor="start" textLength="31.8" lengthAdjust="spacingAndGlyphs" class="sm">mm/hr</text>
<text x="817.5" y="369" font-family='"Liberation Sans", sans-serif' font-size="12.6" text-anchor="start" textLength="21.2" lengthAdjust="spacingAndGlyphs">48.0</text>
<text x="817.5" y="389" font-family='"Liberation Sans", sans-serif' font-size="12.6" text-anchor="start" textLength="21.2" lengthAdjust="spacingAndGlyphs">12.0</text>
<text x="817.5" y="408" font-family='"Liberation Sans", sans-serif' font-size="12.6" text-anchor="start" textLength="15.2" lengthAdjust="spacingAndGlyphs">6.0</text>
<text x="817.5" y="428" font-family='"Liberation Sans", sans-serif' font-size="12.6" text-anchor="start" textLength="15.2" lengthAdjust="spacingAndGlyphs">3.0</text>
<text x="817.5" y="447" font-family='"Liberation Sans", sans-serif' font-size="12.6" text-anchor="start" textLength="15.2" lengthAdjust="spacingAndGlyphs">1.5</text>
<text x="817.5" y="467" font-family='"Liberation Sans", sans-serif' font-size="12.6" text-anchor="start" textLength="15.2" lengthAdjust="spacingAndGlyphs">0.5</text>
<text x="817.5" y="485" font-family='"Liberation Sans", sans-serif' font-size="12.6" text-anchor="start" textLength="15.2" lengthAdjust="spacingAndGlyphs">0.1</text>
<text x="817.5" y="495" font-family='"Liberation Sans", sans-serif' font-size="12.6" text-anchor="start" textLength="15.2" lengthAdjust="spacingAndGlyphs">0.0</text>
<text x="818" y="504" font-family='"Liberation Serif", serif' font-size="13" text-anchor="start" textLength="23.5" lengthAdjust="spacingAndGlyphs" class="sm">miss</text>
<text x="801" y="637" font-family='"Liberation Serif", serif' font-size="13" text-anchor="start" textLength="6" lengthAdjust="spacingAndGlyphs" class="sm">d</text>
<text x="807" y="637" font-family='"Liberation Sans", sans-serif' font-size="12" text-anchor="start" textLength="14" lengthAdjust="spacingAndGlyphs">BZ</text>
<text x="818.5" y="657" font-family='"Liberation Sans", sans-serif' font-size="12.6" text-anchor="start" textLength="21.2" lengthAdjust="spacingAndGlyphs">40.0</text>
<text x="818.5" y="669" font-family='"Liberation Sans", sans-serif' font-size="12.6" text-anchor="start" textLength="21.2" lengthAdjust="spacingAndGlyphs">35.0</text>
<text x="818.5" y="682" font-family='"Liberation Sans", sans-serif' font-size="12.6" text-anchor="start" textLength="21.2" lengthAdjust="spacingAndGlyphs">30.0</text>
<text x="818.5" y="695" font-family='"Liberation Sans", sans-serif' font-size="12.6" text-anchor="start" textLength="21.2" lengthAdjust="spacingAndGlyphs">25.0</text>
<text x="818.5" y="707" font-family='"Liberation Sans", sans-serif' font-size="12.6" text-anchor="start" textLength="21.2" lengthAdjust="spacingAndGlyphs">20.0</text>
<text x="818.5" y="720" font-family='"Liberation Sans", sans-serif' font-size="12.6" text-anchor="start" textLength="21.2" lengthAdjust="spacingAndGlyphs">15.0</text>
<text x="818.5" y="733" font-family='"Liberation Sans", sans-serif' font-size="12.6" text-anchor="start" textLength="21.2" lengthAdjust="spacingAndGlyphs">10.0</text>
<text x="818.5" y="745" font-family='"Liberation Sans", sans-serif' font-size="12.6" text-anchor="start" textLength="15.2" lengthAdjust="spacingAndGlyphs">5.0</text>
<text x="818.5" y="758" font-family='"Liberation Sans", sans-serif' font-size="12.6" text-anchor="start" textLength="15.2" lengthAdjust="spacingAndGlyphs">0.0</text>
<text x="825" y="770" font-family='"Liberation Sans", sans-serif' font-size="12.6" text-anchor="start" textLength="15.2" lengthAdjust="spacingAndGlyphs">5.0</text>
<text x="819" y="779" font-family='"Liberation Serif", serif' font-size="13" text-anchor="start" textLength="24" lengthAdjust="spacingAndGlyphs" class="sm">none</text>
</g>
</svg>
</body></html>
